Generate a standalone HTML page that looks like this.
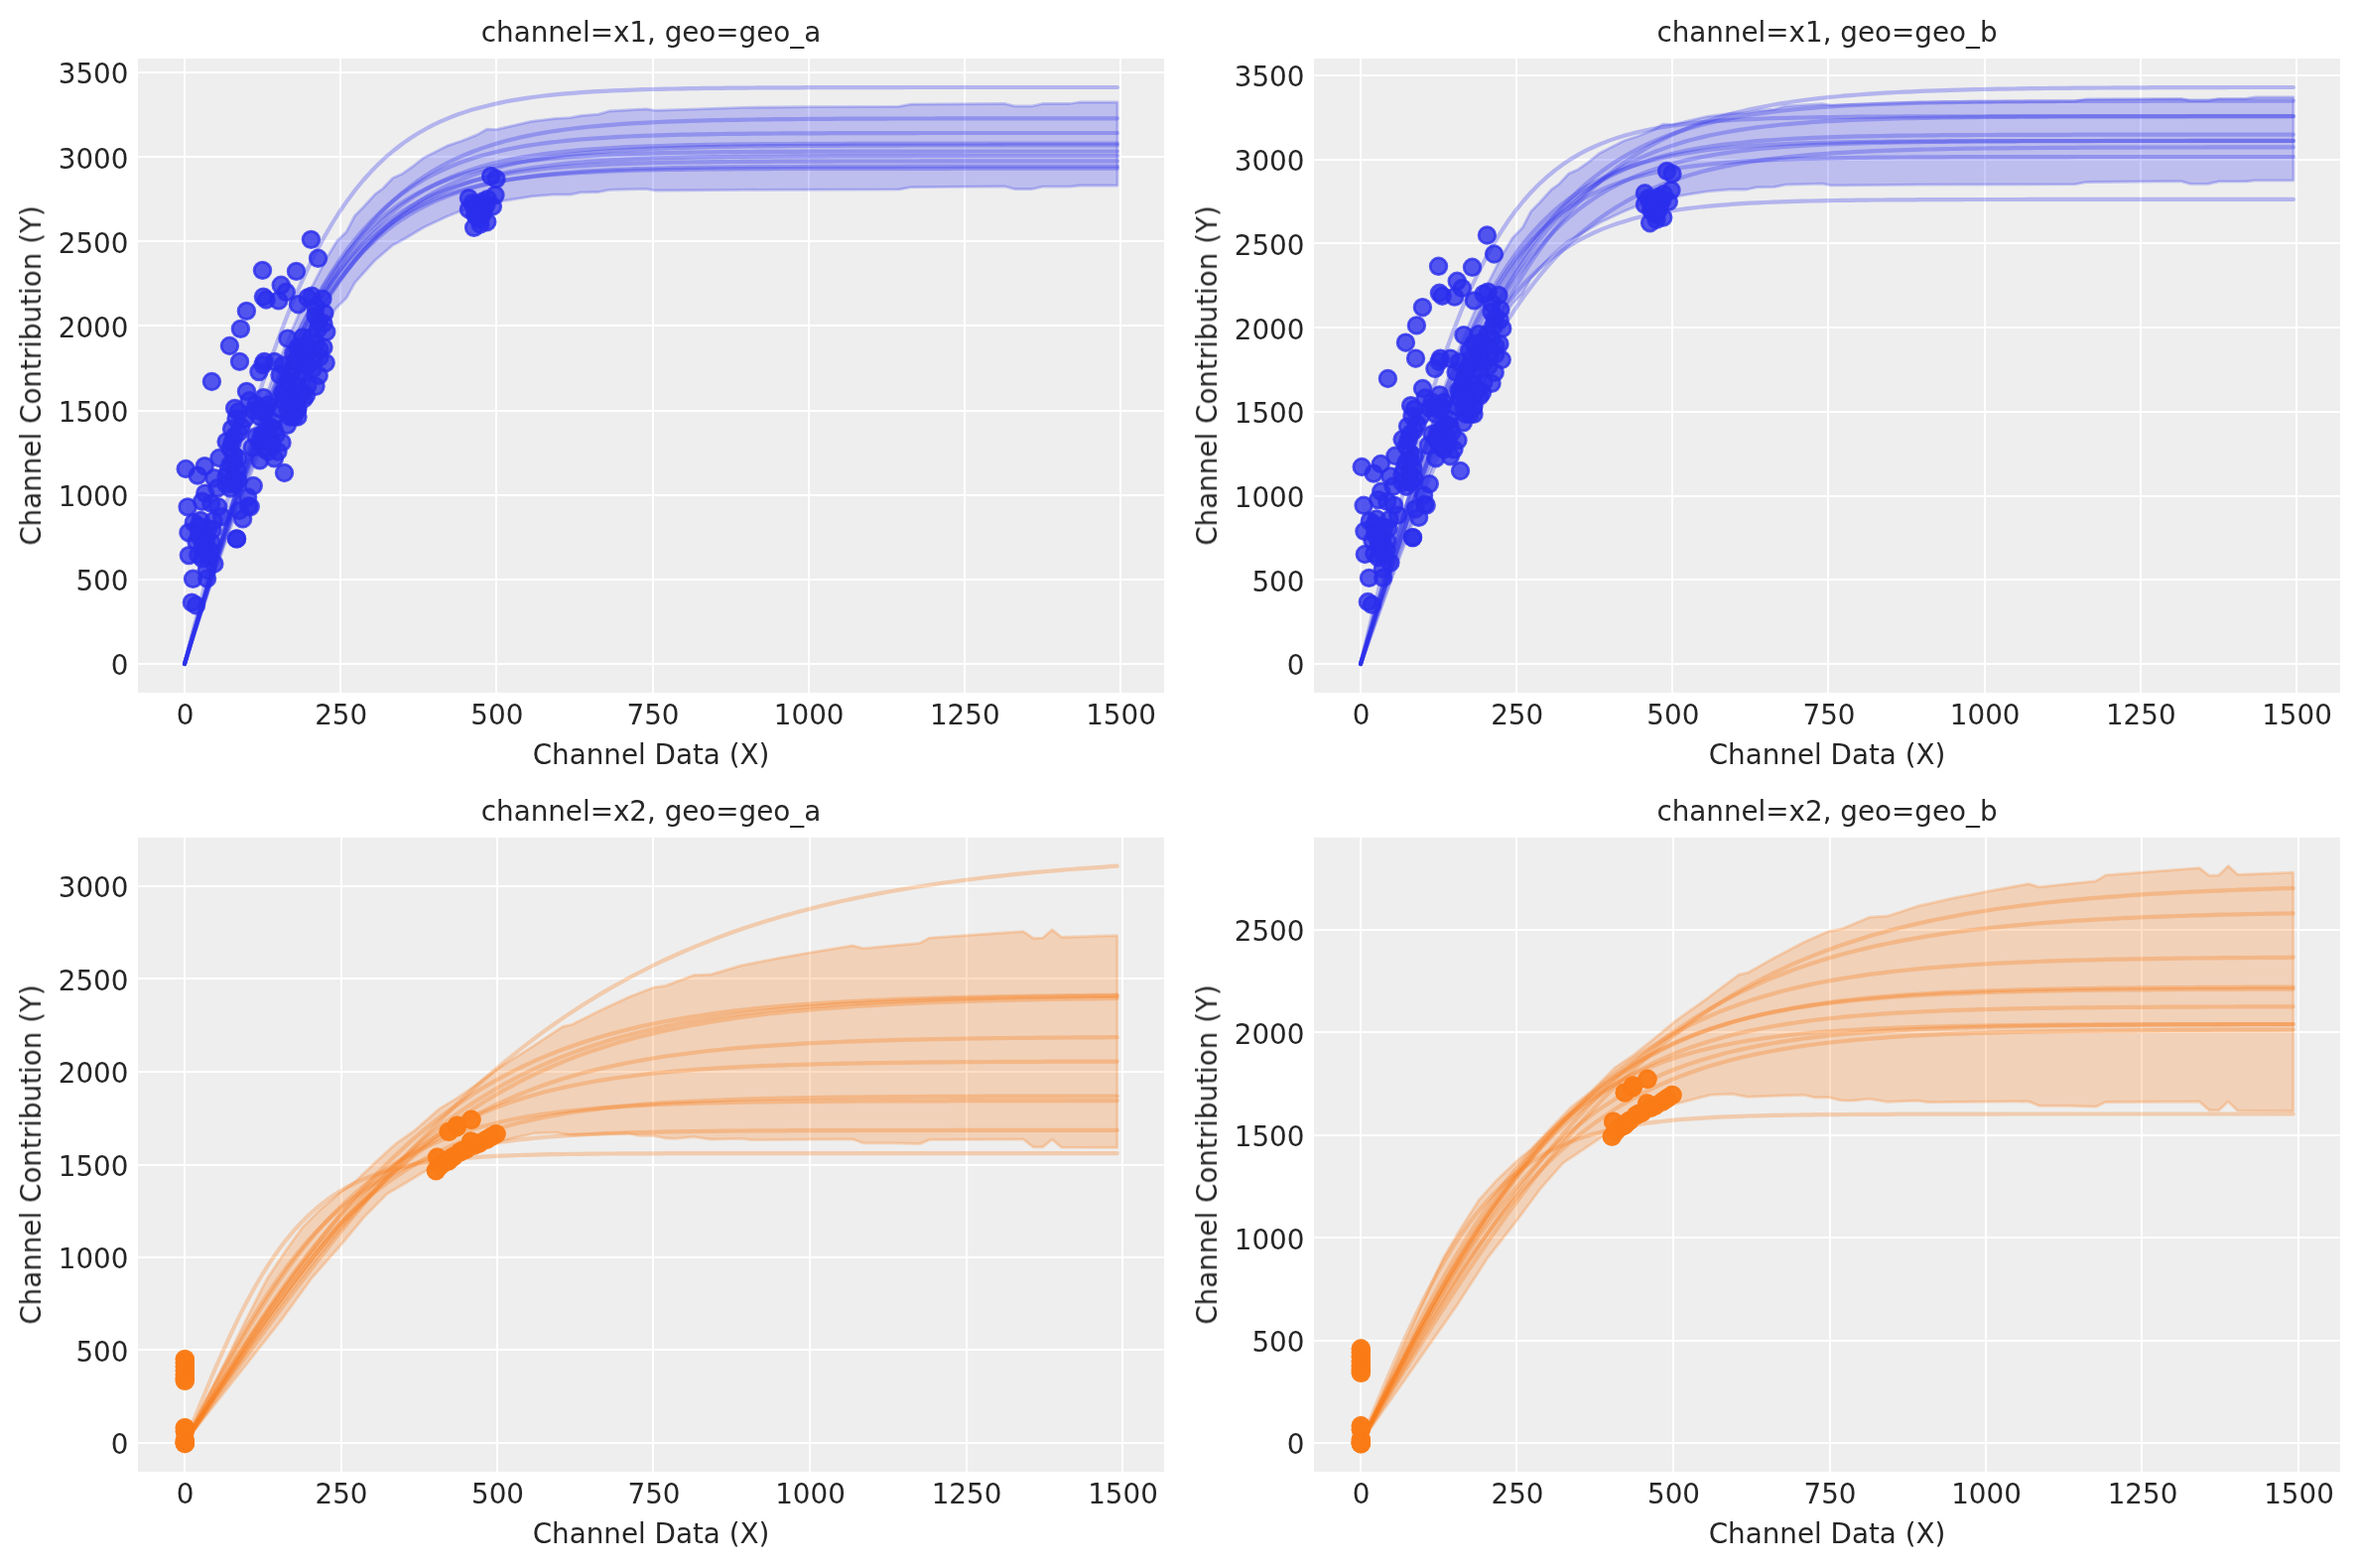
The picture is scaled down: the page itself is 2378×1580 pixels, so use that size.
<!DOCTYPE html>
<html lang="en"><head><meta charset="utf-8"><title>Saturation curves</title>
<style>html,body{margin:0;padding:0;background:#fff}svg{display:block}text{font-family:"DejaVu Sans", "Liberation Sans", sans-serif;font-size:27.78px;fill:#262626}</style></head>
<body>
<svg width="2378" height="1580" viewBox="0 0 2378 1580">
<rect width="2378" height="1580" fill="#fff"/>
<g id="p1">
<clipPath id="cp1"><rect x="139" y="59" width="1034" height="639"/></clipPath>
<rect x="139" y="59" width="1034" height="639" fill="#eeeeee"/>
<path d="M186 59V698M343 59V698M500 59V698M658 59V698M815 59V698M972 59V698M1129 59V698M139 669H1173M139 584H1173M139 499H1173M139 414H1173M139 328H1173M139 243H1173M139 158H1173M139 73H1173" stroke="#fff" stroke-width="2" fill="none"/>
<g clip-path="url(#cp1)">
<polygon points="186,669 191.6,649 197.2,629.1 202.8,609.3 208.3,589.6 213.9,570.2 219.5,550.9 225.1,531.9 230.7,513.3 236.2,495 241.8,477.1 247.4,459.6 253,442.6 258.6,426 264.2,409.9 269.8,394.3 275.3,379.3 280.9,364.7 286.5,350.7 292.1,337.3 297.7,324.4 303.2,312 308.8,300.1 314.4,288.8 320,278 329.9,258.9 339.1,243.6 349.1,233.6 357.5,217.5 365.9,209 378.1,195.6 385.8,190 395.7,179.5 405.7,174.9 415.6,168 427.1,158.9 451.6,146.6 465.4,142 480.7,135.9 490.6,130.2 500,130.6 535.6,122.3 558.7,119.6 574.7,118.7 585.4,116.6 603.2,115.2 613.9,112 651.3,109.8 660.2,111.3 749.2,108.4 815,107.7 905.8,107.3 917.8,105.1 1012.7,104.5 1022.2,106.9 1040,106.9 1050.7,104.5 1078,104.5 1087.5,103 1125.9,103 1125.9,187 1087.5,187 1078,188.1 1050.7,188.1 1040,190.5 1022.2,190.5 1012.7,187.9 917.8,188.7 905.8,190.9 749.2,191.3 660.2,192 651.3,190.3 613.9,191.3 603.2,193.5 585.4,193.8 574.7,196.1 557,196.1 535.6,197.9 507,202.4 480,208 463.1,213 450.1,218.3 427.1,229 408,240.5 395.7,247 377.4,262.7 357.5,284.9 349.1,300.2 339.1,310 333.2,318.1 327.3,326.7 321.4,335.8 315.5,345.4 309.7,355.4 303.8,365.9 297.9,376.9 292,388.4 286.1,400.5 280.2,413 274.3,426.1 268.4,439.6 262.6,453.6 256.7,468.1 250.8,483.1 244.9,498.5 239,514.3 233.1,530.4 227.2,546.9 221.3,563.8 215.4,580.9 209.6,598.2 203.7,615.7 197.8,633.4 191.9,651.2 186,669" fill="#2a2eec" fill-opacity="0.25" stroke="#2a2eec" stroke-opacity="0.25" stroke-width="2.78" stroke-linejoin="round"/>
<g fill="none" stroke="#2a2eec" stroke-opacity="0.3" stroke-width="4.17" stroke-linecap="round" stroke-linejoin="round">
<polyline points="186,669 193.8,638.3 201.7,607.7 209.5,577.5 217.3,547.8 225.2,518.7 233,490.4 240.8,463 248.7,436.6 256.5,411.3 264.3,387.2 272.2,364.3 280,342.6 287.8,322.2 295.6,303 303.5,285.1 311.3,268.3 319.1,252.8 327,238.4 334.8,225 342.6,212.7 350.5,201.4 358.3,191 366.1,181.5 374,172.8 381.8,164.9 389.6,157.6 397.5,151 405.3,145 413.1,139.5 421,134.5 428.8,130 436.6,125.9 444.5,122.2 452.3,118.9 460.1,115.8 468,113.1 475.8,110.6 483.6,108.4 491.5,106.4 499.3,104.6 507.1,102.9 514.9,101.4 522.8,100.1 530.6,98.9 538.4,97.8 546.3,96.8 554.1,95.9 561.9,95.1 569.8,94.4 577.6,93.8 585.4,93.2 593.3,92.7 601.1,92.2 608.9,91.8 616.8,91.4 624.6,91.1 632.4,90.8 640.3,90.5 648.1,90.2 655.9,90 663.8,89.8 671.6,89.6 679.4,89.5 687.3,89.3 695.1,89.2 702.9,89.1 710.8,88.9 718.6,88.9 726.4,88.8 734.2,88.7 742.1,88.6 749.9,88.6 757.7,88.5 765.6,88.4 773.4,88.4 781.2,88.4 789.1,88.3 796.9,88.3 804.7,88.3 812.6,88.2 820.4,88.2 828.2,88.2 836.1,88.2 843.9,88.1 851.7,88.1 859.6,88.1 867.4,88.1 875.2,88.1 883.1,88.1 890.9,88.1 898.7,88.1 906.6,88.1 914.4,88 922.2,88 930.1,88 937.9,88 945.7,88 953.5,88 961.4,88 969.2,88 977,88 984.9,88 992.7,88 1000.5,88 1008.4,88 1016.2,88 1024,88 1031.9,88 1039.7,88 1047.5,88 1055.4,88 1063.2,88 1071,88 1078.9,88 1086.7,88 1094.5,88 1102.4,88 1110.2,88 1118,88 1125.9,88"/>
<polyline points="186,669 193.8,643.4 201.7,617.8 209.5,592.5 217.3,567.5 225.2,543 233,518.9 240.8,495.5 248.7,472.8 256.5,450.8 264.3,429.5 272.2,409.2 280,389.7 287.8,371.1 295.6,353.5 303.5,336.7 311.3,320.9 319.1,306 327,291.9 334.8,278.8 342.6,266.5 350.5,255 358.3,244.3 366.1,234.3 374,225 381.8,216.4 389.6,208.5 397.5,201.1 405.3,194.3 413.1,188.1 421,182.3 428.8,177 436.6,172.1 444.5,167.6 452.3,163.4 460.1,159.7 468,156.2 475.8,153 483.6,150.1 491.5,147.4 499.3,145 507.1,142.7 514.9,140.7 522.8,138.8 530.6,137.1 538.4,135.5 546.3,134.1 554.1,132.8 561.9,131.6 569.8,130.5 577.6,129.5 585.4,128.6 593.3,127.8 601.1,127.1 608.9,126.4 616.8,125.8 624.6,125.2 632.4,124.7 640.3,124.2 648.1,123.8 655.9,123.4 663.8,123 671.6,122.7 679.4,122.4 687.3,122.1 695.1,121.9 702.9,121.6 710.8,121.4 718.6,121.2 726.4,121.1 734.2,120.9 742.1,120.8 749.9,120.6 757.7,120.5 765.6,120.4 773.4,120.3 781.2,120.2 789.1,120.1 796.9,120.1 804.7,120 812.6,119.9 820.4,119.9 828.2,119.8 836.1,119.8 843.9,119.7 851.7,119.7 859.6,119.7 867.4,119.6 875.2,119.6 883.1,119.6 890.9,119.6 898.7,119.5 906.6,119.5 914.4,119.5 922.2,119.5 930.1,119.5 937.9,119.5 945.7,119.4 953.5,119.4 961.4,119.4 969.2,119.4 977,119.4 984.9,119.4 992.7,119.4 1000.5,119.4 1008.4,119.4 1016.2,119.4 1024,119.4 1031.9,119.4 1039.7,119.4 1047.5,119.4 1055.4,119.4 1063.2,119.3 1071,119.3 1078.9,119.3 1086.7,119.3 1094.5,119.3 1102.4,119.3 1110.2,119.3 1118,119.3 1125.9,119.3"/>
<polyline points="186,669 193.8,642.3 201.7,615.7 209.5,589.3 217.3,563.4 225.2,537.9 233,513.1 240.8,489 248.7,465.6 256.5,443.2 264.3,421.7 272.2,401.1 280,381.6 287.8,363 295.6,345.5 303.5,329.1 311.3,313.6 319.1,299.2 327,285.7 334.8,273.1 342.6,261.4 350.5,250.6 358.3,240.6 366.1,231.4 374,222.9 381.8,215.1 389.6,207.9 397.5,201.3 405.3,195.2 413.1,189.7 421,184.7 428.8,180 436.6,175.8 444.5,172 452.3,168.5 460.1,165.3 468,162.4 475.8,159.7 483.6,157.3 491.5,155.2 499.3,153.2 507.1,151.4 514.9,149.7 522.8,148.3 530.6,146.9 538.4,145.7 546.3,144.6 554.1,143.6 561.9,142.7 569.8,141.9 577.6,141.1 585.4,140.4 593.3,139.8 601.1,139.3 608.9,138.8 616.8,138.3 624.6,137.9 632.4,137.5 640.3,137.2 648.1,136.9 655.9,136.6 663.8,136.4 671.6,136.1 679.4,135.9 687.3,135.7 695.1,135.6 702.9,135.4 710.8,135.3 718.6,135.1 726.4,135 734.2,134.9 742.1,134.8 749.9,134.8 757.7,134.7 765.6,134.6 773.4,134.6 781.2,134.5 789.1,134.4 796.9,134.4 804.7,134.4 812.6,134.3 820.4,134.3 828.2,134.3 836.1,134.2 843.9,134.2 851.7,134.2 859.6,134.2 867.4,134.1 875.2,134.1 883.1,134.1 890.9,134.1 898.7,134.1 906.6,134.1 914.4,134.1 922.2,134.1 930.1,134 937.9,134 945.7,134 953.5,134 961.4,134 969.2,134 977,134 984.9,134 992.7,134 1000.5,134 1008.4,134 1016.2,134 1024,134 1031.9,134 1039.7,134 1047.5,134 1055.4,134 1063.2,134 1071,134 1078.9,134 1086.7,134 1094.5,134 1102.4,134 1110.2,134 1118,134 1125.9,134"/>
<polyline points="186,669 193.8,643 201.7,617.2 209.5,591.6 217.3,566.4 225.2,541.7 233,517.6 240.8,494.1 248.7,471.4 256.5,449.6 264.3,428.6 272.2,408.6 280,389.5 287.8,371.4 295.6,354.3 303.5,338.1 311.3,323 319.1,308.8 327,295.5 334.8,283.2 342.6,271.7 350.5,261 358.3,251.2 366.1,242 374,233.6 381.8,225.9 389.6,218.7 397.5,212.2 405.3,206.2 413.1,200.7 421,195.6 428.8,191 436.6,186.8 444.5,183 452.3,179.5 460.1,176.3 468,173.4 475.8,170.7 483.6,168.3 491.5,166.1 499.3,164.1 507.1,162.3 514.9,160.6 522.8,159.1 530.6,157.8 538.4,156.5 546.3,155.4 554.1,154.4 561.9,153.5 569.8,152.6 577.6,151.9 585.4,151.2 593.3,150.6 601.1,150 608.9,149.5 616.8,149 624.6,148.6 632.4,148.2 640.3,147.9 648.1,147.6 655.9,147.3 663.8,147 671.6,146.8 679.4,146.6 687.3,146.4 695.1,146.2 702.9,146 710.8,145.9 718.6,145.8 726.4,145.6 734.2,145.5 742.1,145.4 749.9,145.4 757.7,145.3 765.6,145.2 773.4,145.1 781.2,145.1 789.1,145 796.9,145 804.7,144.9 812.6,144.9 820.4,144.9 828.2,144.8 836.1,144.8 843.9,144.8 851.7,144.8 859.6,144.7 867.4,144.7 875.2,144.7 883.1,144.7 890.9,144.7 898.7,144.6 906.6,144.6 914.4,144.6 922.2,144.6 930.1,144.6 937.9,144.6 945.7,144.6 953.5,144.6 961.4,144.6 969.2,144.6 977,144.6 984.9,144.6 992.7,144.6 1000.5,144.6 1008.4,144.6 1016.2,144.5 1024,144.5 1031.9,144.5 1039.7,144.5 1047.5,144.5 1055.4,144.5 1063.2,144.5 1071,144.5 1078.9,144.5 1086.7,144.5 1094.5,144.5 1102.4,144.5 1110.2,144.5 1118,144.5 1125.9,144.5"/>
<polyline points="186,669 193.8,644.2 201.7,619.6 209.5,595.2 217.3,571.1 225.2,547.4 233,524.2 240.8,501.7 248.7,479.8 256.5,458.6 264.3,438.3 272.2,418.8 280,400.1 287.8,382.3 295.6,365.5 303.5,349.5 311.3,334.4 319.1,320.3 327,307 334.8,294.5 342.6,282.8 350.5,272 358.3,261.9 366.1,252.5 374,243.8 381.8,235.7 389.6,228.3 397.5,221.4 405.3,215.1 413.1,209.2 421,203.9 428.8,198.9 436.6,194.4 444.5,190.2 452.3,186.4 460.1,182.9 468,179.7 475.8,176.8 483.6,174.1 491.5,171.7 499.3,169.4 507.1,167.4 514.9,165.5 522.8,163.8 530.6,162.3 538.4,160.9 546.3,159.6 554.1,158.4 561.9,157.3 569.8,156.3 577.6,155.4 585.4,154.6 593.3,153.9 601.1,153.2 608.9,152.6 616.8,152 624.6,151.5 632.4,151.1 640.3,150.7 648.1,150.3 655.9,149.9 663.8,149.6 671.6,149.3 679.4,149 687.3,148.8 695.1,148.6 702.9,148.4 710.8,148.2 718.6,148 726.4,147.9 734.2,147.8 742.1,147.6 749.9,147.5 757.7,147.4 765.6,147.3 773.4,147.2 781.2,147.2 789.1,147.1 796.9,147 804.7,147 812.6,146.9 820.4,146.9 828.2,146.8 836.1,146.8 843.9,146.8 851.7,146.7 859.6,146.7 867.4,146.7 875.2,146.6 883.1,146.6 890.9,146.6 898.7,146.6 906.6,146.6 914.4,146.5 922.2,146.5 930.1,146.5 937.9,146.5 945.7,146.5 953.5,146.5 961.4,146.5 969.2,146.5 977,146.5 984.9,146.5 992.7,146.5 1000.5,146.4 1008.4,146.4 1016.2,146.4 1024,146.4 1031.9,146.4 1039.7,146.4 1047.5,146.4 1055.4,146.4 1063.2,146.4 1071,146.4 1078.9,146.4 1086.7,146.4 1094.5,146.4 1102.4,146.4 1110.2,146.4 1118,146.4 1125.9,146.4"/>
<polyline points="186,669 193.8,641.8 201.7,614.8 209.5,588.1 217.3,561.8 225.2,536 233,511 240.8,486.8 248.7,463.4 256.5,441 264.3,419.6 272.2,399.3 280,380 287.8,361.9 295.6,344.9 303.5,328.9 311.3,314 319.1,300.2 327,287.4 334.8,275.5 342.6,264.5 350.5,254.4 358.3,245.2 366.1,236.6 374,228.9 381.8,221.7 389.6,215.2 397.5,209.3 405.3,203.9 413.1,199 421,194.5 428.8,190.5 436.6,186.8 444.5,183.5 452.3,180.5 460.1,177.8 468,175.3 475.8,173.1 483.6,171 491.5,169.2 499.3,167.6 507.1,166.1 514.9,164.8 522.8,163.5 530.6,162.5 538.4,161.5 546.3,160.6 554.1,159.8 561.9,159.1 569.8,158.4 577.6,157.8 585.4,157.3 593.3,156.8 601.1,156.4 608.9,156 616.8,155.7 624.6,155.3 632.4,155.1 640.3,154.8 648.1,154.6 655.9,154.4 663.8,154.2 671.6,154 679.4,153.9 687.3,153.7 695.1,153.6 702.9,153.5 710.8,153.4 718.6,153.3 726.4,153.2 734.2,153.2 742.1,153.1 749.9,153 757.7,153 765.6,152.9 773.4,152.9 781.2,152.9 789.1,152.8 796.9,152.8 804.7,152.8 812.6,152.7 820.4,152.7 828.2,152.7 836.1,152.7 843.9,152.7 851.7,152.7 859.6,152.6 867.4,152.6 875.2,152.6 883.1,152.6 890.9,152.6 898.7,152.6 906.6,152.6 914.4,152.6 922.2,152.6 930.1,152.6 937.9,152.6 945.7,152.6 953.5,152.6 961.4,152.6 969.2,152.6 977,152.5 984.9,152.5 992.7,152.5 1000.5,152.5 1008.4,152.5 1016.2,152.5 1024,152.5 1031.9,152.5 1039.7,152.5 1047.5,152.5 1055.4,152.5 1063.2,152.5 1071,152.5 1078.9,152.5 1086.7,152.5 1094.5,152.5 1102.4,152.5 1110.2,152.5 1118,152.5 1125.9,152.5"/>
<polyline points="186,669 193.8,643.7 201.7,618.5 209.5,593.6 217.3,569 225.2,544.9 233,521.4 240.8,498.5 248.7,476.3 256.5,455 264.3,434.6 272.2,415 280,396.4 287.8,378.7 295.6,362 303.5,346.3 311.3,331.5 319.1,317.6 327,304.7 334.8,292.6 342.6,281.4 350.5,271 358.3,261.3 366.1,252.4 374,244.2 381.8,236.6 389.6,229.6 397.5,223.2 405.3,217.4 413.1,212 421,207 428.8,202.5 436.6,198.4 444.5,194.7 452.3,191.2 460.1,188.1 468,185.2 475.8,182.6 483.6,180.3 491.5,178.1 499.3,176.2 507.1,174.4 514.9,172.8 522.8,171.3 530.6,170 538.4,168.8 546.3,167.7 554.1,166.7 561.9,165.8 569.8,164.9 577.6,164.2 585.4,163.5 593.3,162.9 601.1,162.3 608.9,161.8 616.8,161.4 624.6,161 632.4,160.6 640.3,160.2 648.1,159.9 655.9,159.7 663.8,159.4 671.6,159.2 679.4,159 687.3,158.8 695.1,158.6 702.9,158.4 710.8,158.3 718.6,158.2 726.4,158.1 734.2,158 742.1,157.9 749.9,157.8 757.7,157.7 765.6,157.6 773.4,157.6 781.2,157.5 789.1,157.5 796.9,157.4 804.7,157.4 812.6,157.3 820.4,157.3 828.2,157.3 836.1,157.2 843.9,157.2 851.7,157.2 859.6,157.2 867.4,157.1 875.2,157.1 883.1,157.1 890.9,157.1 898.7,157.1 906.6,157.1 914.4,157.1 922.2,157 930.1,157 937.9,157 945.7,157 953.5,157 961.4,157 969.2,157 977,157 984.9,157 992.7,157 1000.5,157 1008.4,157 1016.2,157 1024,157 1031.9,157 1039.7,157 1047.5,157 1055.4,157 1063.2,157 1071,157 1078.9,157 1086.7,157 1094.5,157 1102.4,157 1110.2,157 1118,157 1125.9,157"/>
<polyline points="186,669 193.8,642.4 201.7,615.9 209.5,589.7 217.3,563.9 225.2,538.7 233,514.1 240.8,490.4 248.7,467.4 256.5,445.5 264.3,424.5 272.2,404.6 280,385.7 287.8,367.9 295.6,351.2 303.5,335.6 311.3,321 319.1,307.4 327,294.8 334.8,283.2 342.6,272.4 350.5,262.5 358.3,253.4 366.1,245 374,237.4 381.8,230.4 389.6,224 397.5,218.2 405.3,212.9 413.1,208.1 421,203.7 428.8,199.7 436.6,196.1 444.5,192.9 452.3,189.9 460.1,187.2 468,184.8 475.8,182.6 483.6,180.6 491.5,178.8 499.3,177.2 507.1,175.7 514.9,174.4 522.8,173.2 530.6,172.2 538.4,171.2 546.3,170.3 554.1,169.5 561.9,168.8 569.8,168.2 577.6,167.6 585.4,167.1 593.3,166.6 601.1,166.2 608.9,165.8 616.8,165.5 624.6,165.2 632.4,164.9 640.3,164.7 648.1,164.4 655.9,164.2 663.8,164 671.6,163.9 679.4,163.7 687.3,163.6 695.1,163.5 702.9,163.4 710.8,163.3 718.6,163.2 726.4,163.1 734.2,163 742.1,163 749.9,162.9 757.7,162.9 765.6,162.8 773.4,162.8 781.2,162.7 789.1,162.7 796.9,162.7 804.7,162.6 812.6,162.6 820.4,162.6 828.2,162.6 836.1,162.6 843.9,162.5 851.7,162.5 859.6,162.5 867.4,162.5 875.2,162.5 883.1,162.5 890.9,162.5 898.7,162.5 906.6,162.5 914.4,162.5 922.2,162.5 930.1,162.4 937.9,162.4 945.7,162.4 953.5,162.4 961.4,162.4 969.2,162.4 977,162.4 984.9,162.4 992.7,162.4 1000.5,162.4 1008.4,162.4 1016.2,162.4 1024,162.4 1031.9,162.4 1039.7,162.4 1047.5,162.4 1055.4,162.4 1063.2,162.4 1071,162.4 1078.9,162.4 1086.7,162.4 1094.5,162.4 1102.4,162.4 1110.2,162.4 1118,162.4 1125.9,162.4"/>
<polyline points="186,669 193.8,643.2 201.7,617.6 209.5,592.2 217.3,567.3 225.2,542.8 233,519 240.8,495.9 248.7,473.6 256.5,452.1 264.3,431.6 272.2,412.1 280,393.6 287.8,376.1 295.6,359.6 303.5,344.2 311.3,329.7 319.1,316.2 327,303.6 334.8,292 342.6,281.2 350.5,271.3 358.3,262.1 366.1,253.6 374,245.9 381.8,238.8 389.6,232.3 397.5,226.3 405.3,220.9 413.1,215.9 421,211.4 428.8,207.3 436.6,203.6 444.5,200.2 452.3,197.1 460.1,194.3 468,191.8 475.8,189.5 483.6,187.4 491.5,185.5 499.3,183.8 507.1,182.2 514.9,180.8 522.8,179.5 530.6,178.4 538.4,177.4 546.3,176.4 554.1,175.6 561.9,174.8 569.8,174.1 577.6,173.5 585.4,172.9 593.3,172.4 601.1,172 608.9,171.5 616.8,171.2 624.6,170.8 632.4,170.5 640.3,170.2 648.1,170 655.9,169.8 663.8,169.6 671.6,169.4 679.4,169.2 687.3,169.1 695.1,168.9 702.9,168.8 710.8,168.7 718.6,168.6 726.4,168.5 734.2,168.4 742.1,168.4 749.9,168.3 757.7,168.2 765.6,168.2 773.4,168.1 781.2,168.1 789.1,168 796.9,168 804.7,168 812.6,167.9 820.4,167.9 828.2,167.9 836.1,167.9 843.9,167.9 851.7,167.8 859.6,167.8 867.4,167.8 875.2,167.8 883.1,167.8 890.9,167.8 898.7,167.8 906.6,167.8 914.4,167.7 922.2,167.7 930.1,167.7 937.9,167.7 945.7,167.7 953.5,167.7 961.4,167.7 969.2,167.7 977,167.7 984.9,167.7 992.7,167.7 1000.5,167.7 1008.4,167.7 1016.2,167.7 1024,167.7 1031.9,167.7 1039.7,167.7 1047.5,167.7 1055.4,167.7 1063.2,167.7 1071,167.7 1078.9,167.7 1086.7,167.7 1094.5,167.7 1102.4,167.7 1110.2,167.7 1118,167.7 1125.9,167.7"/>
<polyline points="186,669 193.8,642.3 201.7,615.8 209.5,589.6 217.3,563.9 225.2,538.7 233,514.2 240.8,490.5 248.7,467.6 256.5,445.8 264.3,425 272.2,405.2 280,386.5 287.8,368.9 295.6,352.4 303.5,337 311.3,322.6 319.1,309.3 327,296.9 334.8,285.5 342.6,275 350.5,265.4 358.3,256.5 366.1,248.4 374,241 381.8,234.3 389.6,228.1 397.5,222.5 405.3,217.4 413.1,212.8 421,208.6 428.8,204.8 436.6,201.3 444.5,198.2 452.3,195.4 460.1,192.9 468,190.6 475.8,188.5 483.6,186.6 491.5,184.9 499.3,183.4 507.1,182 514.9,180.8 522.8,179.7 530.6,178.7 538.4,177.8 546.3,177 554.1,176.2 561.9,175.6 569.8,175 577.6,174.5 585.4,174 593.3,173.6 601.1,173.2 608.9,172.8 616.8,172.5 624.6,172.2 632.4,172 640.3,171.7 648.1,171.5 655.9,171.4 663.8,171.2 671.6,171 679.4,170.9 687.3,170.8 695.1,170.7 702.9,170.6 710.8,170.5 718.6,170.4 726.4,170.3 734.2,170.3 742.1,170.2 749.9,170.2 757.7,170.1 765.6,170.1 773.4,170.1 781.2,170 789.1,170 796.9,170 804.7,169.9 812.6,169.9 820.4,169.9 828.2,169.9 836.1,169.9 843.9,169.8 851.7,169.8 859.6,169.8 867.4,169.8 875.2,169.8 883.1,169.8 890.9,169.8 898.7,169.8 906.6,169.8 914.4,169.8 922.2,169.8 930.1,169.8 937.9,169.8 945.7,169.8 953.5,169.8 961.4,169.7 969.2,169.7 977,169.7 984.9,169.7 992.7,169.7 1000.5,169.7 1008.4,169.7 1016.2,169.7 1024,169.7 1031.9,169.7 1039.7,169.7 1047.5,169.7 1055.4,169.7 1063.2,169.7 1071,169.7 1078.9,169.7 1086.7,169.7 1094.5,169.7 1102.4,169.7 1110.2,169.7 1118,169.7 1125.9,169.7"/>
</g>
<g fill="#2a2eec" fill-opacity="0.8" stroke="#2a2eec" stroke-opacity="0.8" stroke-width="2.78">
<circle cx="313.4" cy="241.4" r="8.33"/><circle cx="320.5" cy="260.3" r="8.33"/><circle cx="264.5" cy="272.4" r="8.33"/><circle cx="298.5" cy="273.4" r="8.33"/><circle cx="283.2" cy="287.3" r="8.33"/><circle cx="288.3" cy="294.3" r="8.33"/><circle cx="280.7" cy="302.9" r="8.33"/><circle cx="265.4" cy="299.1" r="8.33"/><circle cx="268.2" cy="302" r="8.33"/><circle cx="248.4" cy="313.4" r="8.33"/><circle cx="300.4" cy="306.7" r="8.33"/><circle cx="314.2" cy="298.1" r="8.33"/><circle cx="325" cy="301.3" r="8.33"/><circle cx="318" cy="309.3" r="8.33"/><circle cx="326.9" cy="315.7" r="8.33"/><circle cx="242.4" cy="331.4" r="8.33"/><circle cx="231.4" cy="348.5" r="8.33"/><circle cx="241.5" cy="364.4" r="8.33"/><circle cx="213.4" cy="384.5" r="8.33"/><circle cx="248.5" cy="394.4" r="8.33"/><circle cx="289.9" cy="341.1" r="8.33"/><circle cx="266.3" cy="364.4" r="8.33"/><circle cx="265" cy="367.6" r="8.33"/><circle cx="260.9" cy="374.6" r="8.33"/><circle cx="276.5" cy="364.4" r="8.33"/><circle cx="328.8" cy="334.4" r="8.33"/><circle cx="328.2" cy="365.7" r="8.33"/><circle cx="321.2" cy="378.4" r="8.33"/><circle cx="318" cy="389.3" r="8.33"/><circle cx="295.7" cy="356.1" r="8.33"/><circle cx="321.2" cy="324.2" r="8.33"/><circle cx="310" cy="300" r="8.33"/><circle cx="318" cy="318" r="8.33"/><circle cx="326" cy="326" r="8.33"/><circle cx="305" cy="340" r="8.33"/><circle cx="318" cy="345" r="8.33"/><circle cx="326" cy="350" r="8.33"/><circle cx="310" cy="355" r="8.33"/><circle cx="300" cy="350" r="8.33"/><circle cx="322" cy="360" r="8.33"/><circle cx="305" cy="365" r="8.33"/><circle cx="315" cy="372" r="8.33"/><circle cx="295" cy="372" r="8.33"/><circle cx="285" cy="368" r="8.33"/><circle cx="300" cy="382" r="8.33"/><circle cx="310" cy="388" r="8.33"/><circle cx="290" cy="385" r="8.33"/><circle cx="282" cy="378" r="8.33"/><circle cx="296" cy="395" r="8.33"/><circle cx="306" cy="402" r="8.33"/><circle cx="286" cy="398" r="8.33"/><circle cx="300" cy="412" r="8.33"/><circle cx="292" cy="420" r="8.33"/><circle cx="187.2" cy="472.5" r="8.33"/><circle cx="206.3" cy="469.6" r="8.33"/><circle cx="199.1" cy="479.1" r="8.33"/><circle cx="220.9" cy="461.5" r="8.33"/><circle cx="286.5" cy="476.5" r="8.33"/><circle cx="255.3" cy="489.5" r="8.33"/><circle cx="249.6" cy="500.9" r="8.33"/><circle cx="206.7" cy="497.1" r="8.33"/><circle cx="189.1" cy="510.9" r="8.33"/><circle cx="219" cy="491.8" r="8.33"/><circle cx="215.9" cy="481.8" r="8.33"/><circle cx="236.6" cy="487.9" r="8.33"/><circle cx="236.6" cy="411.4" r="8.33"/><circle cx="251.1" cy="403.8" r="8.33"/><circle cx="233.5" cy="432.1" r="8.33"/><circle cx="228.1" cy="445.1" r="8.33"/><circle cx="265.6" cy="400.7" r="8.33"/><circle cx="299.3" cy="413.7" r="8.33"/><circle cx="289.4" cy="428.3" r="8.33"/><circle cx="284" cy="445.9" r="8.33"/><circle cx="276.4" cy="461.9" r="8.33"/><circle cx="261.8" cy="463.8" r="8.33"/><circle cx="254.2" cy="451.2" r="8.33"/><circle cx="308.5" cy="398.4" r="8.33"/><circle cx="246.5" cy="422.1" r="8.33"/><circle cx="267.9" cy="413" r="8.33"/><circle cx="273.3" cy="443.6" r="8.33"/><circle cx="235.8" cy="458.9" r="8.33"/><circle cx="238.9" cy="474.2" r="8.33"/><circle cx="284.8" cy="396.1" r="8.33"/><circle cx="212.8" cy="507.1" r="8.33"/><circle cx="250.3" cy="510" r="8.33"/><circle cx="240" cy="415" r="8.33"/><circle cx="243" cy="430" r="8.33"/><circle cx="236" cy="440" r="8.33"/><circle cx="232" cy="452" r="8.33"/><circle cx="240" cy="462" r="8.33"/><circle cx="232" cy="468" r="8.33"/><circle cx="228" cy="480" r="8.33"/><circle cx="240" cy="484" r="8.33"/><circle cx="232" cy="492" r="8.33"/><circle cx="270" cy="408" r="8.33"/><circle cx="262" cy="420" r="8.33"/><circle cx="275" cy="425" r="8.33"/><circle cx="268" cy="435" r="8.33"/><circle cx="278" cy="438" r="8.33"/><circle cx="262" cy="445" r="8.33"/><circle cx="270" cy="455" r="8.33"/><circle cx="280" cy="455" r="8.33"/><circle cx="258" cy="440" r="8.33"/><circle cx="292" cy="405" r="8.33"/><circle cx="282" cy="412" r="8.33"/><circle cx="296" cy="420" r="8.33"/><circle cx="203.7" cy="505.3" r="8.33"/><circle cx="241.2" cy="514.5" r="8.33"/><circle cx="244.6" cy="522.9" r="8.33"/><circle cx="238.5" cy="542.9" r="8.33"/><circle cx="238.5" cy="542.9" r="8.33"/><circle cx="219.7" cy="510.7" r="8.33"/><circle cx="223.6" cy="520.6" r="8.33"/><circle cx="195.2" cy="526.7" r="8.33"/><circle cx="202.1" cy="524.4" r="8.33"/><circle cx="189.9" cy="536.7" r="8.33"/><circle cx="200.6" cy="537.4" r="8.33"/><circle cx="209.8" cy="532.8" r="8.33"/><circle cx="212.8" cy="546.6" r="8.33"/><circle cx="204.4" cy="551.2" r="8.33"/><circle cx="190.3" cy="559.6" r="8.33"/><circle cx="199.8" cy="558.9" r="8.33"/><circle cx="209.8" cy="561.2" r="8.33"/><circle cx="215.9" cy="568" r="8.33"/><circle cx="208.3" cy="574.2" r="8.33"/><circle cx="194.5" cy="583.3" r="8.33"/><circle cx="208.6" cy="583" r="8.33"/><circle cx="193.3" cy="607.1" r="8.33"/><circle cx="197.5" cy="610" r="8.33"/><circle cx="252.2" cy="510.7" r="8.33"/><circle cx="215" cy="525" r="8.33"/><circle cx="208" cy="542" r="8.33"/><circle cx="198" cy="546" r="8.33"/><circle cx="204" cy="563" r="8.33"/><circle cx="212" cy="555" r="8.33"/><circle cx="494.6" cy="177.5" r="8.33"/><circle cx="500" cy="180.3" r="8.33"/><circle cx="472.4" cy="199.7" r="8.33"/><circle cx="499" cy="196.6" r="8.33"/><circle cx="496.4" cy="207.9" r="8.33"/><circle cx="472.4" cy="210.9" r="8.33"/><circle cx="477.6" cy="229.3" r="8.33"/><circle cx="490.8" cy="223.7" r="8.33"/><circle cx="481.1" cy="208.4" r="8.33"/><circle cx="486.2" cy="203.3" r="8.33"/><circle cx="478.6" cy="216" r="8.33"/><circle cx="486.2" cy="216" r="8.33"/><circle cx="491.3" cy="200.7" r="8.33"/><circle cx="476" cy="204.8" r="8.33"/><circle cx="483.7" cy="221.1" r="8.33"/><circle cx="480" cy="212" r="8.33"/><circle cx="488" cy="210" r="8.33"/><circle cx="484" cy="226" r="8.33"/><circle cx="256" cy="414" r="8.33"/><circle cx="258" cy="408" r="8.33"/><circle cx="262" cy="412" r="8.33"/><circle cx="320" cy="332" r="8.33"/><circle cx="314" cy="340" r="8.33"/><circle cx="322" cy="352" r="8.33"/><circle cx="308" cy="348" r="8.33"/><circle cx="316" cy="362" r="8.33"/><circle cx="304" cy="358" r="8.33"/><circle cx="310" cy="368" r="8.33"/><circle cx="298" cy="364" r="8.33"/><circle cx="306" cy="376" r="8.33"/><circle cx="292" cy="378" r="8.33"/><circle cx="300" cy="390" r="8.33"/><circle cx="288" cy="392" r="8.33"/><circle cx="304" cy="396" r="8.33"/><circle cx="294" cy="404" r="8.33"/><circle cx="300" cy="420" r="8.33"/><circle cx="238" cy="422" r="8.33"/><circle cx="240" cy="436" r="8.33"/><circle cx="234" cy="446" r="8.33"/><circle cx="236" cy="466" r="8.33"/><circle cx="230" cy="474" r="8.33"/><circle cx="236" cy="480" r="8.33"/><circle cx="228" cy="488" r="8.33"/><circle cx="266" cy="416" r="8.33"/><circle cx="272" cy="430" r="8.33"/><circle cx="264" cy="438" r="8.33"/><circle cx="274" cy="448" r="8.33"/><circle cx="266" cy="452" r="8.33"/><circle cx="276" cy="432" r="8.33"/><circle cx="286" cy="404" r="8.33"/><circle cx="290" cy="414" r="8.33"/><circle cx="214" cy="534" r="8.33"/><circle cx="202" cy="542" r="8.33"/><circle cx="208" cy="556" r="8.33"/><circle cx="200" cy="530" r="8.33"/><circle cx="206" cy="548" r="8.33"/><circle cx="482" cy="206" r="8.33"/><circle cx="486" cy="212" r="8.33"/><circle cx="480" cy="218" r="8.33"/><circle cx="484" cy="214" r="8.33"/><circle cx="490" cy="206" r="8.33"/><circle cx="478" cy="208" r="8.33"/>
</g>
</g>
<g opacity="0.999">
<text x="186.5" y="730.2" text-anchor="middle">0</text>
<text x="343.7" y="730.2" text-anchor="middle">250</text>
<text x="500.8" y="730.2" text-anchor="middle">500</text>
<text x="658" y="730.2" text-anchor="middle">750</text>
<text x="815.2" y="730.2" text-anchor="middle">1000</text>
<text x="972.3" y="730.2" text-anchor="middle">1250</text>
<text x="1129.5" y="730.2" text-anchor="middle">1500</text>
<text x="129.4" y="680.4" text-anchor="end">0</text>
<text x="129.4" y="595.3" text-anchor="end">500</text>
<text x="129.4" y="510.1" text-anchor="end">1000</text>
<text x="129.4" y="425" text-anchor="end">1500</text>
<text x="129.4" y="339.8" text-anchor="end">2000</text>
<text x="129.4" y="254.7" text-anchor="end">2500</text>
<text x="129.4" y="169.5" text-anchor="end">3000</text>
<text x="129.4" y="84.4" text-anchor="end">3500</text>
<text x="656" y="42.2" text-anchor="middle">channel=x1, geo=geo_a</text>
<text x="656" y="770.2" text-anchor="middle">Channel Data (X)</text>
<text transform="translate(41 378.5) rotate(-90)" text-anchor="middle">Channel Contribution (Y)</text>
</g>
</g>
<g id="p2">
<clipPath id="cp2"><rect x="1324" y="59" width="1034" height="639"/></clipPath>
<rect x="1324" y="59" width="1034" height="639" fill="#eeeeee"/>
<path d="M1371 59V698M1528 59V698M1685 59V698M1842 59V698M2000 59V698M2157 59V698M2314 59V698M1324 669H2358M1324 584H2358M1324 500H2358M1324 415H2358M1324 330H2358M1324 245H2358M1324 161H2358M1324 76H2358" stroke="#fff" stroke-width="2" fill="none"/>
<g clip-path="url(#cp2)">
<polygon points="1371,669 1376.6,648.9 1382.2,628.8 1387.8,608.8 1393.3,588.9 1398.9,569.2 1404.5,549.8 1410.1,530.7 1415.7,511.9 1421.2,493.4 1426.8,475.3 1432.4,457.7 1438,440.5 1443.6,423.8 1449.2,407.5 1454.8,391.8 1460.3,376.6 1465.9,361.9 1471.5,347.8 1477.1,334.2 1482.7,321.2 1488.2,308.7 1493.8,296.7 1499.4,285.3 1505,274.4 1514.9,255.1 1524.1,239.7 1534.1,229.6 1542.5,213.3 1550.9,204.8 1563.1,191.2 1570.8,185.6 1580.7,175 1590.7,170.4 1600.6,163.4 1612.1,154.2 1636.6,141.8 1650.4,137.2 1665.7,131 1675.6,125.2 1685,125.6 1720.6,117.3 1743.7,114.5 1759.7,113.6 1770.4,111.5 1788.2,110.1 1798.9,106.9 1836.3,104.7 1845.2,106.2 1934.2,103.2 2000,102.5 2090.8,102.1 2102.8,99.9 2197.7,99.3 2207.2,101.7 2225,101.7 2235.7,99.3 2263,99.3 2272.5,97.8 2310.9,97.8 2310.9,181.8 2272.5,181.8 2263,182.9 2235.7,182.9 2225,185.3 2207.2,185.3 2197.7,182.7 2102.8,183.5 2090.8,185.7 1934.2,186.1 1845.2,186.8 1836.3,185.1 1798.9,186.1 1788.2,188.4 1770.4,188.7 1759.7,191 1742,191 1720.6,192.8 1692,197.4 1665,203 1648.1,208.1 1635.1,213.4 1612.1,224.2 1593,235.9 1580.7,242.4 1562.4,258.3 1542.5,280.8 1534.1,296.2 1524.1,306.1 1518.2,314.4 1512.3,323.1 1506.4,332.2 1500.5,341.9 1494.7,352 1488.8,362.6 1482.9,373.8 1477,385.4 1471.1,397.6 1465.2,410.3 1459.3,423.4 1453.4,437.1 1447.5,451.3 1441.7,466 1435.8,481.1 1429.9,496.6 1424,512.6 1418.1,528.9 1412.2,545.6 1406.3,562.6 1400.4,579.9 1394.6,597.5 1388.7,615.2 1382.8,633 1376.9,651 1371,669" fill="#2a2eec" fill-opacity="0.25" stroke="#2a2eec" stroke-opacity="0.25" stroke-width="2.78" stroke-linejoin="round"/>
<g fill="none" stroke="#2a2eec" stroke-opacity="0.3" stroke-width="4.17" stroke-linecap="round" stroke-linejoin="round">
<polyline points="1371,669 1378.8,646.2 1386.7,623.5 1394.5,600.9 1402.3,578.5 1410.2,556.4 1418,534.6 1425.8,513.3 1433.7,492.3 1441.5,471.9 1449.3,452 1457.2,432.6 1465,413.9 1472.8,395.8 1480.6,378.4 1488.5,361.6 1496.3,345.5 1504.1,330.1 1512,315.4 1519.8,301.4 1527.6,288.1 1535.5,275.4 1543.3,263.4 1551.1,252 1559,241.2 1566.8,231.1 1574.6,221.5 1582.5,212.5 1590.3,204 1598.1,196.1 1606,188.6 1613.8,181.6 1621.6,175.1 1629.5,169 1637.3,163.2 1645.1,157.9 1653,152.9 1660.8,148.2 1668.6,143.9 1676.5,139.9 1684.3,136.1 1692.1,132.6 1699.9,129.3 1707.8,126.3 1715.6,123.5 1723.4,120.9 1731.3,118.5 1739.1,116.2 1746.9,114.1 1754.8,112.2 1762.6,110.4 1770.4,108.7 1778.3,107.2 1786.1,105.7 1793.9,104.4 1801.8,103.2 1809.6,102 1817.4,101 1825.3,100 1833.1,99.1 1840.9,98.2 1848.8,97.5 1856.6,96.7 1864.4,96.1 1872.3,95.5 1880.1,94.9 1887.9,94.4 1895.8,93.9 1903.6,93.4 1911.4,93 1919.2,92.6 1927.1,92.3 1934.9,91.9 1942.7,91.6 1950.6,91.3 1958.4,91.1 1966.2,90.8 1974.1,90.6 1981.9,90.4 1989.7,90.2 1997.6,90 2005.4,89.9 2013.2,89.7 2021.1,89.6 2028.9,89.5 2036.7,89.3 2044.6,89.2 2052.4,89.1 2060.2,89 2068.1,88.9 2075.9,88.9 2083.7,88.8 2091.6,88.7 2099.4,88.6 2107.2,88.6 2115.1,88.5 2122.9,88.5 2130.7,88.4 2138.5,88.4 2146.4,88.4 2154.2,88.3 2162,88.3 2169.9,88.2 2177.7,88.2 2185.5,88.2 2193.4,88.2 2201.2,88.1 2209,88.1 2216.9,88.1 2224.7,88.1 2232.5,88.1 2240.4,88.1 2248.2,88 2256,88 2263.9,88 2271.7,88 2279.5,88 2287.4,88 2295.2,88 2303,88 2310.9,88"/>
<polyline points="1371,669 1378.8,644.3 1386.7,619.6 1394.5,595.2 1402.3,571 1410.2,547.2 1418,523.8 1425.8,501 1433.7,478.7 1441.5,457.1 1449.3,436.2 1457.2,416 1465,396.5 1472.8,377.9 1480.6,360.1 1488.5,343.1 1496.3,326.9 1504.1,311.6 1512,297.1 1519.8,283.4 1527.6,270.4 1535.5,258.3 1543.3,246.9 1551.1,236.2 1559,226.2 1566.8,216.8 1574.6,208.1 1582.5,200 1590.3,192.4 1598.1,185.4 1606,178.9 1613.8,172.8 1621.6,167.2 1629.5,162 1637.3,157.2 1645.1,152.8 1653,148.7 1660.8,144.9 1668.6,141.4 1676.5,138.2 1684.3,135.2 1692.1,132.5 1699.9,130 1707.8,127.7 1715.6,125.5 1723.4,123.6 1731.3,121.8 1739.1,120.1 1746.9,118.6 1754.8,117.2 1762.6,115.9 1770.4,114.7 1778.3,113.6 1786.1,112.6 1793.9,111.7 1801.8,110.9 1809.6,110.1 1817.4,109.4 1825.3,108.8 1833.1,108.2 1840.9,107.6 1848.8,107.1 1856.6,106.7 1864.4,106.2 1872.3,105.8 1880.1,105.5 1887.9,105.2 1895.8,104.9 1903.6,104.6 1911.4,104.3 1919.2,104.1 1927.1,103.9 1934.9,103.7 1942.7,103.5 1950.6,103.4 1958.4,103.2 1966.2,103.1 1974.1,103 1981.9,102.8 1989.7,102.7 1997.6,102.6 2005.4,102.6 2013.2,102.5 2021.1,102.4 2028.9,102.3 2036.7,102.3 2044.6,102.2 2052.4,102.2 2060.2,102.1 2068.1,102.1 2075.9,102 2083.7,102 2091.6,102 2099.4,101.9 2107.2,101.9 2115.1,101.9 2122.9,101.8 2130.7,101.8 2138.5,101.8 2146.4,101.8 2154.2,101.8 2162,101.8 2169.9,101.7 2177.7,101.7 2185.5,101.7 2193.4,101.7 2201.2,101.7 2209,101.7 2216.9,101.7 2224.7,101.7 2232.5,101.7 2240.4,101.7 2248.2,101.6 2256,101.6 2263.9,101.6 2271.7,101.6 2279.5,101.6 2287.4,101.6 2295.2,101.6 2303,101.6 2310.9,101.6"/>
<polyline points="1371,669 1378.8,636.4 1386.7,604 1394.5,572 1402.3,540.8 1410.2,510.3 1418,480.9 1425.8,452.6 1433.7,425.7 1441.5,400.1 1449.3,375.9 1457.2,353.2 1465,332 1472.8,312.2 1480.6,293.9 1488.5,277.1 1496.3,261.6 1504.1,247.3 1512,234.4 1519.8,222.5 1527.6,211.8 1535.5,202 1543.3,193.2 1551.1,185.2 1559,178.1 1566.8,171.6 1574.6,165.8 1582.5,160.6 1590.3,155.9 1598.1,151.7 1606,148 1613.8,144.6 1621.6,141.6 1629.5,138.9 1637.3,136.6 1645.1,134.4 1653,132.5 1660.8,130.8 1668.6,129.3 1676.5,128 1684.3,126.8 1692.1,125.7 1699.9,124.8 1707.8,123.9 1715.6,123.2 1723.4,122.5 1731.3,121.9 1739.1,121.4 1746.9,120.9 1754.8,120.5 1762.6,120.1 1770.4,119.8 1778.3,119.5 1786.1,119.2 1793.9,119 1801.8,118.8 1809.6,118.6 1817.4,118.5 1825.3,118.3 1833.1,118.2 1840.9,118.1 1848.8,118 1856.6,117.9 1864.4,117.8 1872.3,117.7 1880.1,117.7 1887.9,117.6 1895.8,117.6 1903.6,117.5 1911.4,117.5 1919.2,117.4 1927.1,117.4 1934.9,117.4 1942.7,117.4 1950.6,117.3 1958.4,117.3 1966.2,117.3 1974.1,117.3 1981.9,117.3 1989.7,117.3 1997.6,117.3 2005.4,117.2 2013.2,117.2 2021.1,117.2 2028.9,117.2 2036.7,117.2 2044.6,117.2 2052.4,117.2 2060.2,117.2 2068.1,117.2 2075.9,117.2 2083.7,117.2 2091.6,117.2 2099.4,117.2 2107.2,117.2 2115.1,117.2 2122.9,117.2 2130.7,117.2 2138.5,117.2 2146.4,117.2 2154.2,117.2 2162,117.2 2169.9,117.2 2177.7,117.2 2185.5,117.2 2193.4,117.2 2201.2,117.2 2209,117.2 2216.9,117.2 2224.7,117.2 2232.5,117.2 2240.4,117.2 2248.2,117.2 2256,117.2 2263.9,117.2 2271.7,117.2 2279.5,117.2 2287.4,117.2 2295.2,117.2 2303,117.2 2310.9,117.2"/>
<polyline points="1371,669 1378.8,644.3 1386.7,619.6 1394.5,595.2 1402.3,571.1 1410.2,547.3 1418,524 1425.8,501.2 1433.7,479.1 1441.5,457.6 1449.3,436.9 1457.2,416.9 1465,397.7 1472.8,379.4 1480.6,361.8 1488.5,345.2 1496.3,329.4 1504.1,314.4 1512,300.3 1519.8,287 1527.6,274.5 1535.5,262.8 1543.3,251.8 1551.1,241.6 1559,232 1566.8,223.1 1574.6,214.8 1582.5,207.1 1590.3,200 1598.1,193.4 1606,187.3 1613.8,181.6 1621.6,176.4 1629.5,171.5 1637.3,167.1 1645.1,163 1653,159.2 1660.8,155.7 1668.6,152.5 1676.5,149.6 1684.3,146.9 1692.1,144.4 1699.9,142.1 1707.8,140 1715.6,138.1 1723.4,136.3 1731.3,134.7 1739.1,133.2 1746.9,131.9 1754.8,130.6 1762.6,129.5 1770.4,128.4 1778.3,127.5 1786.1,126.6 1793.9,125.8 1801.8,125.1 1809.6,124.4 1817.4,123.8 1825.3,123.2 1833.1,122.7 1840.9,122.2 1848.8,121.8 1856.6,121.4 1864.4,121 1872.3,120.7 1880.1,120.4 1887.9,120.1 1895.8,119.9 1903.6,119.6 1911.4,119.4 1919.2,119.2 1927.1,119.1 1934.9,118.9 1942.7,118.8 1950.6,118.6 1958.4,118.5 1966.2,118.4 1974.1,118.3 1981.9,118.2 1989.7,118.1 1997.6,118 2005.4,117.9 2013.2,117.9 2021.1,117.8 2028.9,117.8 2036.7,117.7 2044.6,117.7 2052.4,117.6 2060.2,117.6 2068.1,117.5 2075.9,117.5 2083.7,117.5 2091.6,117.5 2099.4,117.4 2107.2,117.4 2115.1,117.4 2122.9,117.4 2130.7,117.4 2138.5,117.3 2146.4,117.3 2154.2,117.3 2162,117.3 2169.9,117.3 2177.7,117.3 2185.5,117.3 2193.4,117.3 2201.2,117.3 2209,117.2 2216.9,117.2 2224.7,117.2 2232.5,117.2 2240.4,117.2 2248.2,117.2 2256,117.2 2263.9,117.2 2271.7,117.2 2279.5,117.2 2287.4,117.2 2295.2,117.2 2303,117.2 2310.9,117.2"/>
<polyline points="1371,669 1378.8,642.4 1386.7,616 1394.5,589.9 1402.3,564.1 1410.2,538.8 1418,514.1 1425.8,490.1 1433.7,467 1441.5,444.6 1449.3,423.2 1457.2,402.8 1465,383.3 1472.8,364.9 1480.6,347.4 1488.5,331 1496.3,315.6 1504.1,301.2 1512,287.7 1519.8,275.2 1527.6,263.5 1535.5,252.7 1543.3,242.7 1551.1,233.5 1559,225 1566.8,217.2 1574.6,210 1582.5,203.4 1590.3,197.3 1598.1,191.8 1606,186.7 1613.8,182.1 1621.6,177.8 1629.5,174 1637.3,170.5 1645.1,167.3 1653,164.3 1660.8,161.7 1668.6,159.3 1676.5,157.1 1684.3,155.1 1692.1,153.3 1699.9,151.6 1707.8,150.1 1715.6,148.8 1723.4,147.5 1731.3,146.4 1739.1,145.4 1746.9,144.5 1754.8,143.7 1762.6,142.9 1770.4,142.2 1778.3,141.6 1786.1,141 1793.9,140.5 1801.8,140.1 1809.6,139.6 1817.4,139.3 1825.3,138.9 1833.1,138.6 1840.9,138.3 1848.8,138.1 1856.6,137.8 1864.4,137.6 1872.3,137.4 1880.1,137.3 1887.9,137.1 1895.8,137 1903.6,136.9 1911.4,136.7 1919.2,136.6 1927.1,136.5 1934.9,136.5 1942.7,136.4 1950.6,136.3 1958.4,136.2 1966.2,136.2 1974.1,136.1 1981.9,136.1 1989.7,136 1997.6,136 2005.4,136 2013.2,135.9 2021.1,135.9 2028.9,135.9 2036.7,135.9 2044.6,135.8 2052.4,135.8 2060.2,135.8 2068.1,135.8 2075.9,135.8 2083.7,135.8 2091.6,135.7 2099.4,135.7 2107.2,135.7 2115.1,135.7 2122.9,135.7 2130.7,135.7 2138.5,135.7 2146.4,135.7 2154.2,135.7 2162,135.7 2169.9,135.7 2177.7,135.7 2185.5,135.7 2193.4,135.7 2201.2,135.7 2209,135.7 2216.9,135.7 2224.7,135.7 2232.5,135.7 2240.4,135.7 2248.2,135.7 2256,135.7 2263.9,135.7 2271.7,135.7 2279.5,135.6 2287.4,135.6 2295.2,135.6 2303,135.6 2310.9,135.6"/>
<polyline points="1371,669 1378.8,644.1 1386.7,619.2 1394.5,594.6 1402.3,570.4 1410.2,546.5 1418,523.2 1425.8,500.5 1433.7,478.4 1441.5,457.1 1449.3,436.6 1457.2,416.9 1465,398.1 1472.8,380.2 1480.6,363.2 1488.5,347.1 1496.3,331.9 1504.1,317.6 1512,304.2 1519.8,291.6 1527.6,279.8 1535.5,268.9 1543.3,258.7 1551.1,249.2 1559,240.4 1566.8,232.3 1574.6,224.7 1582.5,217.8 1590.3,211.4 1598.1,205.5 1606,200.1 1613.8,195.1 1621.6,190.5 1629.5,186.3 1637.3,182.4 1645.1,178.9 1653,175.7 1660.8,172.7 1668.6,170 1676.5,167.5 1684.3,165.3 1692.1,163.2 1699.9,161.3 1707.8,159.6 1715.6,158 1723.4,156.6 1731.3,155.3 1739.1,154.1 1746.9,153 1754.8,152 1762.6,151.1 1770.4,150.3 1778.3,149.5 1786.1,148.8 1793.9,148.2 1801.8,147.6 1809.6,147.1 1817.4,146.7 1825.3,146.2 1833.1,145.8 1840.9,145.5 1848.8,145.2 1856.6,144.9 1864.4,144.6 1872.3,144.4 1880.1,144.1 1887.9,143.9 1895.8,143.8 1903.6,143.6 1911.4,143.4 1919.2,143.3 1927.1,143.2 1934.9,143.1 1942.7,143 1950.6,142.9 1958.4,142.8 1966.2,142.7 1974.1,142.6 1981.9,142.6 1989.7,142.5 1997.6,142.4 2005.4,142.4 2013.2,142.4 2021.1,142.3 2028.9,142.3 2036.7,142.2 2044.6,142.2 2052.4,142.2 2060.2,142.2 2068.1,142.1 2075.9,142.1 2083.7,142.1 2091.6,142.1 2099.4,142.1 2107.2,142.1 2115.1,142 2122.9,142 2130.7,142 2138.5,142 2146.4,142 2154.2,142 2162,142 2169.9,142 2177.7,142 2185.5,142 2193.4,142 2201.2,142 2209,141.9 2216.9,141.9 2224.7,141.9 2232.5,141.9 2240.4,141.9 2248.2,141.9 2256,141.9 2263.9,141.9 2271.7,141.9 2279.5,141.9 2287.4,141.9 2295.2,141.9 2303,141.9 2310.9,141.9"/>
<polyline points="1371,669 1378.8,641.1 1386.7,613.4 1394.5,586 1402.3,559 1410.2,532.6 1418,507 1425.8,482.1 1433.7,458.2 1441.5,435.3 1449.3,413.4 1457.2,392.6 1465,372.9 1472.8,354.4 1480.6,337 1488.5,320.7 1496.3,305.5 1504.1,291.4 1512,278.3 1519.8,266.2 1527.6,255.1 1535.5,244.8 1543.3,235.4 1551.1,226.8 1559,218.9 1566.8,211.6 1574.6,205.1 1582.5,199.1 1590.3,193.6 1598.1,188.6 1606,184.1 1613.8,180 1621.6,176.3 1629.5,173 1637.3,169.9 1645.1,167.2 1653,164.7 1660.8,162.5 1668.6,160.4 1676.5,158.6 1684.3,156.9 1692.1,155.5 1699.9,154.1 1707.8,152.9 1715.6,151.8 1723.4,150.8 1731.3,149.9 1739.1,149.1 1746.9,148.4 1754.8,147.8 1762.6,147.2 1770.4,146.6 1778.3,146.2 1786.1,145.7 1793.9,145.4 1801.8,145 1809.6,144.7 1817.4,144.4 1825.3,144.2 1833.1,143.9 1840.9,143.7 1848.8,143.6 1856.6,143.4 1864.4,143.2 1872.3,143.1 1880.1,143 1887.9,142.9 1895.8,142.8 1903.6,142.7 1911.4,142.6 1919.2,142.5 1927.1,142.5 1934.9,142.4 1942.7,142.4 1950.6,142.3 1958.4,142.3 1966.2,142.2 1974.1,142.2 1981.9,142.2 1989.7,142.2 1997.6,142.1 2005.4,142.1 2013.2,142.1 2021.1,142.1 2028.9,142.1 2036.7,142 2044.6,142 2052.4,142 2060.2,142 2068.1,142 2075.9,142 2083.7,142 2091.6,142 2099.4,142 2107.2,142 2115.1,142 2122.9,141.9 2130.7,141.9 2138.5,141.9 2146.4,141.9 2154.2,141.9 2162,141.9 2169.9,141.9 2177.7,141.9 2185.5,141.9 2193.4,141.9 2201.2,141.9 2209,141.9 2216.9,141.9 2224.7,141.9 2232.5,141.9 2240.4,141.9 2248.2,141.9 2256,141.9 2263.9,141.9 2271.7,141.9 2279.5,141.9 2287.4,141.9 2295.2,141.9 2303,141.9 2310.9,141.9"/>
<polyline points="1371,669 1378.8,647 1386.7,625 1394.5,603.2 1402.3,581.6 1410.2,560.3 1418,539.5 1425.8,519 1433.7,499 1441.5,479.6 1449.3,460.8 1457.2,442.6 1465,425 1472.8,408.1 1480.6,392 1488.5,376.5 1496.3,361.8 1504.1,347.8 1512,334.5 1519.8,321.9 1527.6,310 1535.5,298.7 1543.3,288.2 1551.1,278.2 1559,268.9 1566.8,260.1 1574.6,252 1582.5,244.3 1590.3,237.2 1598.1,230.6 1606,224.4 1613.8,218.6 1621.6,213.3 1629.5,208.3 1637.3,203.7 1645.1,199.4 1653,195.4 1660.8,191.8 1668.6,188.4 1676.5,185.2 1684.3,182.3 1692.1,179.7 1699.9,177.2 1707.8,174.9 1715.6,172.8 1723.4,170.9 1731.3,169.1 1739.1,167.4 1746.9,165.9 1754.8,164.5 1762.6,163.2 1770.4,162 1778.3,160.9 1786.1,159.9 1793.9,159 1801.8,158.1 1809.6,157.3 1817.4,156.6 1825.3,155.9 1833.1,155.3 1840.9,154.8 1848.8,154.2 1856.6,153.8 1864.4,153.3 1872.3,152.9 1880.1,152.6 1887.9,152.2 1895.8,151.9 1903.6,151.6 1911.4,151.3 1919.2,151.1 1927.1,150.9 1934.9,150.7 1942.7,150.5 1950.6,150.3 1958.4,150.2 1966.2,150 1974.1,149.9 1981.9,149.7 1989.7,149.6 1997.6,149.5 2005.4,149.4 2013.2,149.3 2021.1,149.3 2028.9,149.2 2036.7,149.1 2044.6,149.1 2052.4,149 2060.2,148.9 2068.1,148.9 2075.9,148.9 2083.7,148.8 2091.6,148.8 2099.4,148.7 2107.2,148.7 2115.1,148.7 2122.9,148.7 2130.7,148.6 2138.5,148.6 2146.4,148.6 2154.2,148.6 2162,148.5 2169.9,148.5 2177.7,148.5 2185.5,148.5 2193.4,148.5 2201.2,148.5 2209,148.5 2216.9,148.5 2224.7,148.4 2232.5,148.4 2240.4,148.4 2248.2,148.4 2256,148.4 2263.9,148.4 2271.7,148.4 2279.5,148.4 2287.4,148.4 2295.2,148.4 2303,148.4 2310.9,148.4"/>
<polyline points="1371,669 1378.8,641 1386.7,613.2 1394.5,585.7 1402.3,558.7 1410.2,532.3 1418,506.7 1425.8,482 1433.7,458.3 1441.5,435.5 1449.3,413.9 1457.2,393.5 1465,374.2 1472.8,356.1 1480.6,339.2 1488.5,323.4 1496.3,308.8 1504.1,295.2 1512,282.7 1519.8,271.2 1527.6,260.6 1535.5,250.9 1543.3,242.1 1551.1,234 1559,226.6 1566.8,219.9 1574.6,213.9 1582.5,208.3 1590.3,203.4 1598.1,198.8 1606,194.7 1613.8,191.1 1621.6,187.7 1629.5,184.7 1637.3,182 1645.1,179.6 1653,177.4 1660.8,175.4 1668.6,173.6 1676.5,172 1684.3,170.6 1692.1,169.3 1699.9,168.1 1707.8,167.1 1715.6,166.2 1723.4,165.3 1731.3,164.6 1739.1,163.9 1746.9,163.3 1754.8,162.7 1762.6,162.2 1770.4,161.8 1778.3,161.4 1786.1,161.1 1793.9,160.7 1801.8,160.5 1809.6,160.2 1817.4,160 1825.3,159.8 1833.1,159.6 1840.9,159.4 1848.8,159.3 1856.6,159.1 1864.4,159 1872.3,158.9 1880.1,158.8 1887.9,158.7 1895.8,158.7 1903.6,158.6 1911.4,158.5 1919.2,158.5 1927.1,158.4 1934.9,158.4 1942.7,158.3 1950.6,158.3 1958.4,158.3 1966.2,158.2 1974.1,158.2 1981.9,158.2 1989.7,158.2 1997.6,158.2 2005.4,158.1 2013.2,158.1 2021.1,158.1 2028.9,158.1 2036.7,158.1 2044.6,158.1 2052.4,158.1 2060.2,158.1 2068.1,158.1 2075.9,158.1 2083.7,158.1 2091.6,158 2099.4,158 2107.2,158 2115.1,158 2122.9,158 2130.7,158 2138.5,158 2146.4,158 2154.2,158 2162,158 2169.9,158 2177.7,158 2185.5,158 2193.4,158 2201.2,158 2209,158 2216.9,158 2224.7,158 2232.5,158 2240.4,158 2248.2,158 2256,158 2263.9,158 2271.7,158 2279.5,158 2287.4,158 2295.2,158 2303,158 2310.9,158"/>
<polyline points="1371,669 1378.8,643.4 1386.7,617.9 1394.5,592.7 1402.3,568 1410.2,543.8 1418,520.4 1425.8,497.7 1433.7,475.9 1441.5,455.1 1449.3,435.3 1457.2,416.6 1465,398.9 1472.8,382.4 1480.6,366.9 1488.5,352.4 1496.3,339 1504.1,326.6 1512,315.1 1519.8,304.6 1527.6,294.9 1535.5,286 1543.3,277.9 1551.1,270.5 1559,263.7 1566.8,257.6 1574.6,252 1582.5,247 1590.3,242.4 1598.1,238.3 1606,234.5 1613.8,231.1 1621.6,228.1 1629.5,225.3 1637.3,222.9 1645.1,220.6 1653,218.6 1660.8,216.8 1668.6,215.2 1676.5,213.7 1684.3,212.4 1692.1,211.2 1699.9,210.1 1707.8,209.2 1715.6,208.3 1723.4,207.6 1731.3,206.9 1739.1,206.3 1746.9,205.7 1754.8,205.2 1762.6,204.7 1770.4,204.3 1778.3,204 1786.1,203.7 1793.9,203.4 1801.8,203.1 1809.6,202.9 1817.4,202.7 1825.3,202.5 1833.1,202.3 1840.9,202.2 1848.8,202 1856.6,201.9 1864.4,201.8 1872.3,201.7 1880.1,201.6 1887.9,201.5 1895.8,201.5 1903.6,201.4 1911.4,201.4 1919.2,201.3 1927.1,201.3 1934.9,201.2 1942.7,201.2 1950.6,201.1 1958.4,201.1 1966.2,201.1 1974.1,201.1 1981.9,201 1989.7,201 1997.6,201 2005.4,201 2013.2,201 2021.1,201 2028.9,201 2036.7,201 2044.6,200.9 2052.4,200.9 2060.2,200.9 2068.1,200.9 2075.9,200.9 2083.7,200.9 2091.6,200.9 2099.4,200.9 2107.2,200.9 2115.1,200.9 2122.9,200.9 2130.7,200.9 2138.5,200.9 2146.4,200.9 2154.2,200.9 2162,200.9 2169.9,200.9 2177.7,200.9 2185.5,200.9 2193.4,200.9 2201.2,200.9 2209,200.9 2216.9,200.9 2224.7,200.9 2232.5,200.9 2240.4,200.9 2248.2,200.9 2256,200.9 2263.9,200.9 2271.7,200.9 2279.5,200.9 2287.4,200.9 2295.2,200.9 2303,200.9 2310.9,200.9"/>
</g>
<g fill="#2a2eec" fill-opacity="0.8" stroke="#2a2eec" stroke-opacity="0.8" stroke-width="2.78">
<circle cx="1498.4" cy="237" r="8.33"/><circle cx="1505.5" cy="256" r="8.33"/><circle cx="1449.5" cy="268.3" r="8.33"/><circle cx="1483.5" cy="269.3" r="8.33"/><circle cx="1468.2" cy="283.3" r="8.33"/><circle cx="1473.3" cy="290.4" r="8.33"/><circle cx="1465.7" cy="299.1" r="8.33"/><circle cx="1450.4" cy="295.3" r="8.33"/><circle cx="1453.2" cy="298.2" r="8.33"/><circle cx="1433.4" cy="309.7" r="8.33"/><circle cx="1485.4" cy="302.9" r="8.33"/><circle cx="1499.2" cy="294.2" r="8.33"/><circle cx="1510" cy="297.5" r="8.33"/><circle cx="1503" cy="305.6" r="8.33"/><circle cx="1511.9" cy="312" r="8.33"/><circle cx="1427.4" cy="327.9" r="8.33"/><circle cx="1416.4" cy="345.2" r="8.33"/><circle cx="1426.5" cy="361.2" r="8.33"/><circle cx="1398.4" cy="381.5" r="8.33"/><circle cx="1433.5" cy="391.5" r="8.33"/><circle cx="1474.9" cy="337.7" r="8.33"/><circle cx="1451.3" cy="361.2" r="8.33"/><circle cx="1450" cy="364.5" r="8.33"/><circle cx="1445.9" cy="371.5" r="8.33"/><circle cx="1461.5" cy="361.2" r="8.33"/><circle cx="1513.8" cy="330.9" r="8.33"/><circle cx="1513.2" cy="362.5" r="8.33"/><circle cx="1506.2" cy="375.4" r="8.33"/><circle cx="1503" cy="386.4" r="8.33"/><circle cx="1480.7" cy="352.8" r="8.33"/><circle cx="1506.2" cy="320.6" r="8.33"/><circle cx="1495" cy="296.2" r="8.33"/><circle cx="1503" cy="314.3" r="8.33"/><circle cx="1511" cy="322.4" r="8.33"/><circle cx="1490" cy="336.6" r="8.33"/><circle cx="1503" cy="341.6" r="8.33"/><circle cx="1511" cy="346.7" r="8.33"/><circle cx="1495" cy="351.7" r="8.33"/><circle cx="1485" cy="346.7" r="8.33"/><circle cx="1507" cy="356.8" r="8.33"/><circle cx="1490" cy="361.8" r="8.33"/><circle cx="1500" cy="368.9" r="8.33"/><circle cx="1480" cy="368.9" r="8.33"/><circle cx="1470" cy="364.9" r="8.33"/><circle cx="1485" cy="379" r="8.33"/><circle cx="1495" cy="385.1" r="8.33"/><circle cx="1475" cy="382" r="8.33"/><circle cx="1467" cy="375" r="8.33"/><circle cx="1481" cy="392.2" r="8.33"/><circle cx="1491" cy="399.2" r="8.33"/><circle cx="1471" cy="395.2" r="8.33"/><circle cx="1485" cy="409.3" r="8.33"/><circle cx="1477" cy="417.4" r="8.33"/><circle cx="1372.2" cy="470.5" r="8.33"/><circle cx="1391.3" cy="467.5" r="8.33"/><circle cx="1384.1" cy="477.1" r="8.33"/><circle cx="1405.9" cy="459.3" r="8.33"/><circle cx="1471.5" cy="474.5" r="8.33"/><circle cx="1440.3" cy="487.6" r="8.33"/><circle cx="1434.6" cy="499.2" r="8.33"/><circle cx="1391.7" cy="495.3" r="8.33"/><circle cx="1374.1" cy="509.3" r="8.33"/><circle cx="1404" cy="490" r="8.33"/><circle cx="1400.9" cy="479.9" r="8.33"/><circle cx="1421.6" cy="486" r="8.33"/><circle cx="1421.6" cy="408.7" r="8.33"/><circle cx="1436.1" cy="401" r="8.33"/><circle cx="1418.5" cy="429.6" r="8.33"/><circle cx="1413.1" cy="442.8" r="8.33"/><circle cx="1450.6" cy="397.9" r="8.33"/><circle cx="1484.3" cy="411" r="8.33"/><circle cx="1474.4" cy="425.8" r="8.33"/><circle cx="1469" cy="443.6" r="8.33"/><circle cx="1461.4" cy="459.7" r="8.33"/><circle cx="1446.8" cy="461.7" r="8.33"/><circle cx="1439.2" cy="448.9" r="8.33"/><circle cx="1493.5" cy="395.6" r="8.33"/><circle cx="1431.5" cy="419.5" r="8.33"/><circle cx="1452.9" cy="410.3" r="8.33"/><circle cx="1458.3" cy="441.3" r="8.33"/><circle cx="1420.8" cy="456.7" r="8.33"/><circle cx="1423.9" cy="472.2" r="8.33"/><circle cx="1469.8" cy="393.3" r="8.33"/><circle cx="1397.8" cy="505.4" r="8.33"/><circle cx="1435.3" cy="508.3" r="8.33"/><circle cx="1425" cy="412.4" r="8.33"/><circle cx="1428" cy="427.5" r="8.33"/><circle cx="1421" cy="437.6" r="8.33"/><circle cx="1417" cy="449.7" r="8.33"/><circle cx="1425" cy="459.8" r="8.33"/><circle cx="1417" cy="465.9" r="8.33"/><circle cx="1413" cy="478" r="8.33"/><circle cx="1425" cy="482.1" r="8.33"/><circle cx="1417" cy="490.2" r="8.33"/><circle cx="1455" cy="405.3" r="8.33"/><circle cx="1447" cy="417.4" r="8.33"/><circle cx="1460" cy="422.5" r="8.33"/><circle cx="1453" cy="432.6" r="8.33"/><circle cx="1463" cy="435.6" r="8.33"/><circle cx="1447" cy="442.7" r="8.33"/><circle cx="1455" cy="452.8" r="8.33"/><circle cx="1465" cy="452.8" r="8.33"/><circle cx="1443" cy="437.6" r="8.33"/><circle cx="1477" cy="402.3" r="8.33"/><circle cx="1467" cy="409.3" r="8.33"/><circle cx="1481" cy="417.4" r="8.33"/><circle cx="1388.7" cy="503.6" r="8.33"/><circle cx="1426.2" cy="512.9" r="8.33"/><circle cx="1429.6" cy="521.4" r="8.33"/><circle cx="1423.5" cy="541.6" r="8.33"/><circle cx="1423.5" cy="541.6" r="8.33"/><circle cx="1404.7" cy="509.1" r="8.33"/><circle cx="1408.6" cy="519.1" r="8.33"/><circle cx="1380.2" cy="525.2" r="8.33"/><circle cx="1387.1" cy="522.9" r="8.33"/><circle cx="1374.9" cy="535.3" r="8.33"/><circle cx="1385.6" cy="536" r="8.33"/><circle cx="1394.8" cy="531.4" r="8.33"/><circle cx="1397.8" cy="545.3" r="8.33"/><circle cx="1389.4" cy="550" r="8.33"/><circle cx="1375.3" cy="558.5" r="8.33"/><circle cx="1384.8" cy="557.8" r="8.33"/><circle cx="1394.8" cy="560.1" r="8.33"/><circle cx="1400.9" cy="566.9" r="8.33"/><circle cx="1393.3" cy="573.2" r="8.33"/><circle cx="1379.5" cy="582.4" r="8.33"/><circle cx="1393.6" cy="582.1" r="8.33"/><circle cx="1378.3" cy="606.5" r="8.33"/><circle cx="1382.5" cy="609.4" r="8.33"/><circle cx="1437.2" cy="509.1" r="8.33"/><circle cx="1400" cy="523.5" r="8.33"/><circle cx="1393" cy="540.7" r="8.33"/><circle cx="1383" cy="544.7" r="8.33"/><circle cx="1389" cy="561.9" r="8.33"/><circle cx="1397" cy="553.8" r="8.33"/><circle cx="1679.6" cy="172.4" r="8.33"/><circle cx="1685" cy="175.2" r="8.33"/><circle cx="1657.4" cy="194.8" r="8.33"/><circle cx="1684" cy="191.7" r="8.33"/><circle cx="1681.4" cy="203.1" r="8.33"/><circle cx="1657.4" cy="206.1" r="8.33"/><circle cx="1662.6" cy="224.7" r="8.33"/><circle cx="1675.8" cy="219.1" r="8.33"/><circle cx="1666.1" cy="203.6" r="8.33"/><circle cx="1671.2" cy="198.5" r="8.33"/><circle cx="1663.6" cy="211.3" r="8.33"/><circle cx="1671.2" cy="211.3" r="8.33"/><circle cx="1676.3" cy="195.8" r="8.33"/><circle cx="1661" cy="200" r="8.33"/><circle cx="1668.7" cy="216.4" r="8.33"/><circle cx="1665" cy="207.2" r="8.33"/><circle cx="1673" cy="205.2" r="8.33"/><circle cx="1669" cy="221.4" r="8.33"/><circle cx="1441" cy="411.3" r="8.33"/><circle cx="1443" cy="405.3" r="8.33"/><circle cx="1447" cy="409.3" r="8.33"/><circle cx="1505" cy="328.5" r="8.33"/><circle cx="1499" cy="336.6" r="8.33"/><circle cx="1507" cy="348.7" r="8.33"/><circle cx="1493" cy="344.7" r="8.33"/><circle cx="1501" cy="358.8" r="8.33"/><circle cx="1489" cy="354.8" r="8.33"/><circle cx="1495" cy="364.9" r="8.33"/><circle cx="1483" cy="360.8" r="8.33"/><circle cx="1491" cy="373" r="8.33"/><circle cx="1477" cy="375" r="8.33"/><circle cx="1485" cy="387.1" r="8.33"/><circle cx="1473" cy="389.1" r="8.33"/><circle cx="1489" cy="393.2" r="8.33"/><circle cx="1479" cy="401.2" r="8.33"/><circle cx="1485" cy="417.4" r="8.33"/><circle cx="1423" cy="419.4" r="8.33"/><circle cx="1425" cy="433.6" r="8.33"/><circle cx="1419" cy="443.7" r="8.33"/><circle cx="1421" cy="463.9" r="8.33"/><circle cx="1415" cy="472" r="8.33"/><circle cx="1421" cy="478" r="8.33"/><circle cx="1413" cy="486.1" r="8.33"/><circle cx="1451" cy="413.4" r="8.33"/><circle cx="1457" cy="427.5" r="8.33"/><circle cx="1449" cy="435.6" r="8.33"/><circle cx="1459" cy="445.7" r="8.33"/><circle cx="1451" cy="449.7" r="8.33"/><circle cx="1461" cy="429.5" r="8.33"/><circle cx="1471" cy="401.2" r="8.33"/><circle cx="1475" cy="411.3" r="8.33"/><circle cx="1399" cy="532.6" r="8.33"/><circle cx="1387" cy="540.7" r="8.33"/><circle cx="1393" cy="554.8" r="8.33"/><circle cx="1385" cy="528.6" r="8.33"/><circle cx="1391" cy="546.7" r="8.33"/><circle cx="1667" cy="201.2" r="8.33"/><circle cx="1671" cy="207.2" r="8.33"/><circle cx="1665" cy="213.3" r="8.33"/><circle cx="1669" cy="209.3" r="8.33"/><circle cx="1675" cy="201.2" r="8.33"/><circle cx="1663" cy="203.2" r="8.33"/>
</g>
</g>
<g opacity="0.999">
<text x="1371.5" y="730.2" text-anchor="middle">0</text>
<text x="1528.7" y="730.2" text-anchor="middle">250</text>
<text x="1685.8" y="730.2" text-anchor="middle">500</text>
<text x="1843" y="730.2" text-anchor="middle">750</text>
<text x="2000.2" y="730.2" text-anchor="middle">1000</text>
<text x="2157.3" y="730.2" text-anchor="middle">1250</text>
<text x="2314.5" y="730.2" text-anchor="middle">1500</text>
<text x="1314.4" y="680.4" text-anchor="end">0</text>
<text x="1314.4" y="595.7" text-anchor="end">500</text>
<text x="1314.4" y="511" text-anchor="end">1000</text>
<text x="1314.4" y="426.3" text-anchor="end">1500</text>
<text x="1314.4" y="341.5" text-anchor="end">2000</text>
<text x="1314.4" y="256.8" text-anchor="end">2500</text>
<text x="1314.4" y="172.1" text-anchor="end">3000</text>
<text x="1314.4" y="87.4" text-anchor="end">3500</text>
<text x="1841" y="42.2" text-anchor="middle">channel=x1, geo=geo_b</text>
<text x="1841" y="770.2" text-anchor="middle">Channel Data (X)</text>
<text transform="translate(1226 378.5) rotate(-90)" text-anchor="middle">Channel Contribution (Y)</text>
</g>
</g>
<g id="p3">
<clipPath id="cp3"><rect x="139" y="844" width="1034" height="639"/></clipPath>
<rect x="139" y="844" width="1034" height="639" fill="#eeeeee"/>
<path d="M186 844V1483M344 844V1483M501 844V1483M658 844V1483M816 844V1483M974 844V1483M1131 844V1483M139 1454H1173M139 1360H1173M139 1267H1173M139 1174H1173M139 1080H1173M139 986H1173M139 893H1173" stroke="#fff" stroke-width="2" fill="none"/>
<g clip-path="url(#cp3)">
<polygon points="186,1454 217,1392 247.9,1330 269.3,1288.2 287.1,1261.4 305,1236.4 322.9,1218.6 345.2,1199.8 358.6,1190 378,1171.5 398.2,1152.9 418,1139 442.9,1117.1 460.7,1106.4 478.6,1093.9 501.4,1077 533.4,1056.6 567.2,1034.3 576.1,1032.5 604.6,1018.3 633,1005 658,995.2 670.4,993.4 698.9,982.7 716.7,981.8 747,972.9 782.5,965.8 818.1,959.6 859.1,952.8 869.8,955.7 900,952.8 926.7,950.4 936.8,945.1 1031.1,938.6 1041.2,945.5 1050.7,945.1 1060.2,936.8 1069.7,944.5 1125.7,942.7 1125.7,1156.4 1069.7,1156.2 1060.2,1148.1 1050.7,1155.9 1041.2,1155.9 1031.1,1148.1 936.8,1148.4 926.7,1152.6 900,1151.8 869.8,1151.8 859.1,1147.9 757.6,1148.6 747,1147.3 716.7,1148.2 698.9,1145.6 681.1,1147.3 670.4,1147 658,1144.3 643.7,1144.3 633,1142 576.1,1143.8 560.1,1141.1 538.7,1142 503.1,1150 480,1155 462,1161.5 445,1170 427,1181 409.2,1191.7 390,1203 367.5,1225.7 345.2,1252.5 313.9,1288.2 283.6,1330 186,1454" fill="#fa7c17" fill-opacity="0.25" stroke="#fa7c17" stroke-opacity="0.25" stroke-width="2.78" stroke-linejoin="round"/>
<g fill="none" stroke="#fa7c17" stroke-opacity="0.3" stroke-width="4.17" stroke-linecap="round" stroke-linejoin="round">
<polyline points="186,1454 193.8,1442.9 201.7,1431.8 209.5,1420.8 217.3,1409.7 225.2,1398.7 233,1387.8 240.8,1376.8 248.6,1366 256.5,1355.1 264.3,1344.4 272.1,1333.7 280,1323.1 287.8,1312.6 295.6,1302.2 303.5,1291.9 311.3,1281.7 319.1,1271.6 327,1261.6 334.8,1251.7 342.6,1242 350.4,1232.4 358.3,1222.9 366.1,1213.6 373.9,1204.3 381.8,1195.3 389.6,1186.4 397.4,1177.6 405.3,1169 413.1,1160.5 420.9,1152.2 428.8,1144.1 436.6,1136.1 444.4,1128.2 452.3,1120.5 460.1,1113 467.9,1105.7 475.7,1098.5 483.6,1091.4 491.4,1084.5 499.2,1077.8 507.1,1071.2 514.9,1064.8 522.7,1058.5 530.6,1052.4 538.4,1046.5 546.2,1040.7 554.1,1035 561.9,1029.5 569.7,1024.1 577.5,1018.9 585.4,1013.8 593.2,1008.9 601,1004.1 608.9,999.4 616.7,994.9 624.5,990.5 632.4,986.2 640.2,982 648,978 655.9,974 663.7,970.2 671.5,966.5 679.3,963 687.2,959.5 695,956.1 702.8,952.9 710.7,949.7 718.5,946.6 726.3,943.7 734.2,940.8 742,938 749.8,935.3 757.7,932.7 765.5,930.2 773.3,927.7 781.1,925.4 789,923.1 796.8,920.9 804.6,918.7 812.5,916.7 820.3,914.7 828.1,912.7 836,910.9 843.8,909 851.6,907.3 859.5,905.6 867.3,904 875.1,902.4 883,900.9 890.8,899.4 898.6,898 906.4,896.6 914.3,895.3 922.1,894 929.9,892.8 937.8,891.6 945.6,890.4 953.4,889.3 961.3,888.3 969.1,887.2 976.9,886.2 984.8,885.3 992.6,884.3 1000.4,883.4 1008.2,882.6 1016.1,881.7 1023.9,880.9 1031.7,880.2 1039.6,879.4 1047.4,878.7 1055.2,878 1063.1,877.3 1070.9,876.7 1078.7,876 1086.6,875.4 1094.4,874.9 1102.2,874.3 1110,873.8 1117.9,873.2 1125.7,872.7"/>
<polyline points="186,1454 193.8,1441.4 201.7,1428.7 209.5,1416.1 217.3,1403.6 225.2,1391.2 233,1378.8 240.8,1366.6 248.6,1354.4 256.5,1342.5 264.3,1330.7 272.1,1319.1 280,1307.6 287.8,1296.4 295.6,1285.4 303.5,1274.6 311.3,1264.1 319.1,1253.8 327,1243.7 334.8,1234 342.6,1224.4 350.4,1215.2 358.3,1206.2 366.1,1197.5 373.9,1189 381.8,1180.8 389.6,1172.9 397.4,1165.3 405.3,1157.9 413.1,1150.8 420.9,1144 428.8,1137.4 436.6,1131.1 444.4,1125 452.3,1119.2 460.1,1113.6 467.9,1108.2 475.7,1103.1 483.6,1098.1 491.4,1093.4 499.2,1088.9 507.1,1084.6 514.9,1080.5 522.7,1076.5 530.6,1072.8 538.4,1069.2 546.2,1065.8 554.1,1062.5 561.9,1059.4 569.7,1056.5 577.5,1053.7 585.4,1051 593.2,1048.4 601,1046 608.9,1043.7 616.7,1041.5 624.5,1039.5 632.4,1037.5 640.2,1035.6 648,1033.8 655.9,1032.1 663.7,1030.5 671.5,1029 679.3,1027.6 687.2,1026.2 695,1024.9 702.8,1023.7 710.7,1022.5 718.5,1021.4 726.3,1020.3 734.2,1019.3 742,1018.4 749.8,1017.5 757.7,1016.6 765.5,1015.8 773.3,1015.1 781.1,1014.4 789,1013.7 796.8,1013 804.6,1012.4 812.5,1011.8 820.3,1011.3 828.1,1010.8 836,1010.3 843.8,1009.8 851.6,1009.4 859.5,1009 867.3,1008.6 875.1,1008.2 883,1007.8 890.8,1007.5 898.6,1007.2 906.4,1006.9 914.3,1006.6 922.1,1006.3 929.9,1006.1 937.8,1005.8 945.6,1005.6 953.4,1005.4 961.3,1005.2 969.1,1005 976.9,1004.8 984.8,1004.6 992.6,1004.5 1000.4,1004.3 1008.2,1004.2 1016.1,1004 1023.9,1003.9 1031.7,1003.8 1039.6,1003.7 1047.4,1003.6 1055.2,1003.5 1063.1,1003.4 1070.9,1003.3 1078.7,1003.2 1086.6,1003.1 1094.4,1003 1102.2,1002.9 1110,1002.9 1117.9,1002.8 1125.7,1002.7"/>
<polyline points="186,1454 193.8,1441.9 201.7,1429.9 209.5,1417.9 217.3,1405.9 225.2,1394 233,1382.2 240.8,1370.5 248.6,1358.9 256.5,1347.4 264.3,1336.1 272.1,1324.9 280,1313.9 287.8,1303.1 295.6,1292.4 303.5,1282 311.3,1271.8 319.1,1261.8 327,1252 334.8,1242.5 342.6,1233.2 350.4,1224.1 358.3,1215.3 366.1,1206.7 373.9,1198.4 381.8,1190.3 389.6,1182.4 397.4,1174.8 405.3,1167.5 413.1,1160.4 420.9,1153.6 428.8,1146.9 436.6,1140.6 444.4,1134.4 452.3,1128.5 460.1,1122.8 467.9,1117.3 475.7,1112.1 483.6,1107 491.4,1102.2 499.2,1097.5 507.1,1093 514.9,1088.8 522.7,1084.7 530.6,1080.8 538.4,1077 546.2,1073.4 554.1,1070 561.9,1066.7 569.7,1063.6 577.5,1060.6 585.4,1057.7 593.2,1055 601,1052.4 608.9,1050 616.7,1047.6 624.5,1045.3 632.4,1043.2 640.2,1041.2 648,1039.2 655.9,1037.4 663.7,1035.6 671.5,1033.9 679.3,1032.3 687.2,1030.8 695,1029.4 702.8,1028 710.7,1026.7 718.5,1025.4 726.3,1024.3 734.2,1023.1 742,1022.1 749.8,1021.1 757.7,1020.1 765.5,1019.2 773.3,1018.3 781.1,1017.5 789,1016.7 796.8,1016 804.6,1015.3 812.5,1014.6 820.3,1014 828.1,1013.4 836,1012.8 843.8,1012.2 851.6,1011.7 859.5,1011.2 867.3,1010.8 875.1,1010.3 883,1009.9 890.8,1009.5 898.6,1009.1 906.4,1008.8 914.3,1008.4 922.1,1008.1 929.9,1007.8 937.8,1007.5 945.6,1007.2 953.4,1007 961.3,1006.7 969.1,1006.5 976.9,1006.3 984.8,1006.1 992.6,1005.9 1000.4,1005.7 1008.2,1005.5 1016.1,1005.3 1023.9,1005.2 1031.7,1005 1039.6,1004.9 1047.4,1004.7 1055.2,1004.6 1063.1,1004.5 1070.9,1004.4 1078.7,1004.2 1086.6,1004.1 1094.4,1004 1102.2,1003.9 1110,1003.9 1117.9,1003.8 1125.7,1003.7"/>
<polyline points="186,1454 193.8,1442.3 201.7,1430.5 209.5,1418.9 217.3,1407.2 225.2,1395.6 233,1384.1 240.8,1372.7 248.6,1361.4 256.5,1350.2 264.3,1339.2 272.1,1328.3 280,1317.6 287.8,1307 295.6,1296.6 303.5,1286.4 311.3,1276.4 319.1,1266.6 327,1257 334.8,1247.6 342.6,1238.4 350.4,1229.5 358.3,1220.8 366.1,1212.4 373.9,1204.1 381.8,1196.1 389.6,1188.4 397.4,1180.8 405.3,1173.5 413.1,1166.5 420.9,1159.7 428.8,1153.1 436.6,1146.7 444.4,1140.5 452.3,1134.6 460.1,1128.9 467.9,1123.4 475.7,1118.1 483.6,1113 491.4,1108.1 499.2,1103.4 507.1,1098.9 514.9,1094.6 522.7,1090.4 530.6,1086.4 538.4,1082.6 546.2,1079 554.1,1075.5 561.9,1072.1 569.7,1068.9 577.5,1065.9 585.4,1062.9 593.2,1060.1 601,1057.5 608.9,1054.9 616.7,1052.5 624.5,1050.1 632.4,1047.9 640.2,1045.8 648,1043.8 655.9,1041.9 663.7,1040 671.5,1038.3 679.3,1036.6 687.2,1035 695,1033.5 702.8,1032.1 710.7,1030.7 718.5,1029.4 726.3,1028.1 734.2,1027 742,1025.8 749.8,1024.8 757.7,1023.7 765.5,1022.8 773.3,1021.8 781.1,1021 789,1020.1 796.8,1019.3 804.6,1018.6 812.5,1017.9 820.3,1017.2 828.1,1016.5 836,1015.9 843.8,1015.3 851.6,1014.8 859.5,1014.2 867.3,1013.7 875.1,1013.3 883,1012.8 890.8,1012.4 898.6,1012 906.4,1011.6 914.3,1011.2 922.1,1010.9 929.9,1010.5 937.8,1010.2 945.6,1009.9 953.4,1009.6 961.3,1009.4 969.1,1009.1 976.9,1008.9 984.8,1008.6 992.6,1008.4 1000.4,1008.2 1008.2,1008 1016.1,1007.8 1023.9,1007.6 1031.7,1007.5 1039.6,1007.3 1047.4,1007.1 1055.2,1007 1063.1,1006.9 1070.9,1006.7 1078.7,1006.6 1086.6,1006.5 1094.4,1006.4 1102.2,1006.3 1110,1006.2 1117.9,1006.1 1125.7,1006"/>
<polyline points="186,1454 193.8,1441.8 201.7,1429.6 209.5,1417.5 217.3,1405.4 225.2,1393.4 233,1381.5 240.8,1369.7 248.6,1358.1 256.5,1346.6 264.3,1335.4 272.1,1324.3 280,1313.4 287.8,1302.7 295.6,1292.3 303.5,1282.1 311.3,1272.2 319.1,1262.5 327,1253.1 334.8,1244 342.6,1235.1 350.4,1226.5 358.3,1218.2 366.1,1210.2 373.9,1202.4 381.8,1195 389.6,1187.8 397.4,1180.9 405.3,1174.2 413.1,1167.8 420.9,1161.7 428.8,1155.9 436.6,1150.3 444.4,1144.9 452.3,1139.7 460.1,1134.8 467.9,1130.2 475.7,1125.7 483.6,1121.4 491.4,1117.4 499.2,1113.5 507.1,1109.8 514.9,1106.3 522.7,1103 530.6,1099.9 538.4,1096.9 546.2,1094 554.1,1091.3 561.9,1088.8 569.7,1086.3 577.5,1084 585.4,1081.8 593.2,1079.8 601,1077.8 608.9,1076 616.7,1074.2 624.5,1072.6 632.4,1071 640.2,1069.5 648,1068.1 655.9,1066.8 663.7,1065.5 671.5,1064.3 679.3,1063.2 687.2,1062.2 695,1061.2 702.8,1060.2 710.7,1059.3 718.5,1058.5 726.3,1057.7 734.2,1056.9 742,1056.2 749.8,1055.6 757.7,1054.9 765.5,1054.3 773.3,1053.8 781.1,1053.3 789,1052.8 796.8,1052.3 804.6,1051.8 812.5,1051.4 820.3,1051 828.1,1050.7 836,1050.3 843.8,1050 851.6,1049.7 859.5,1049.4 867.3,1049.1 875.1,1048.8 883,1048.6 890.8,1048.4 898.6,1048.1 906.4,1047.9 914.3,1047.7 922.1,1047.6 929.9,1047.4 937.8,1047.2 945.6,1047.1 953.4,1046.9 961.3,1046.8 969.1,1046.7 976.9,1046.5 984.8,1046.4 992.6,1046.3 1000.4,1046.2 1008.2,1046.1 1016.1,1046 1023.9,1045.9 1031.7,1045.9 1039.6,1045.8 1047.4,1045.7 1055.2,1045.7 1063.1,1045.6 1070.9,1045.5 1078.7,1045.5 1086.6,1045.4 1094.4,1045.4 1102.2,1045.3 1110,1045.3 1117.9,1045.2 1125.7,1045.2"/>
<polyline points="186,1454 193.8,1440.9 201.7,1427.7 209.5,1414.7 217.3,1401.7 225.2,1388.9 233,1376.2 240.8,1363.7 248.6,1351.4 256.5,1339.3 264.3,1327.4 272.1,1315.8 280,1304.5 287.8,1293.5 295.6,1282.8 303.5,1272.4 311.3,1262.4 319.1,1252.6 327,1243.3 334.8,1234.2 342.6,1225.6 350.4,1217.2 358.3,1209.2 366.1,1201.6 373.9,1194.2 381.8,1187.3 389.6,1180.6 397.4,1174.2 405.3,1168.2 413.1,1162.5 420.9,1157 428.8,1151.8 436.6,1146.9 444.4,1142.3 452.3,1137.9 460.1,1133.8 467.9,1129.8 475.7,1126.1 483.6,1122.6 491.4,1119.3 499.2,1116.2 507.1,1113.3 514.9,1110.6 522.7,1108 530.6,1105.5 538.4,1103.3 546.2,1101.1 554.1,1099.1 561.9,1097.2 569.7,1095.4 577.5,1093.8 585.4,1092.2 593.2,1090.7 601,1089.3 608.9,1088.1 616.7,1086.8 624.5,1085.7 632.4,1084.7 640.2,1083.7 648,1082.7 655.9,1081.9 663.7,1081 671.5,1080.3 679.3,1079.6 687.2,1078.9 695,1078.3 702.8,1077.7 710.7,1077.1 718.5,1076.6 726.3,1076.2 734.2,1075.7 742,1075.3 749.8,1074.9 757.7,1074.5 765.5,1074.2 773.3,1073.9 781.1,1073.6 789,1073.3 796.8,1073 804.6,1072.8 812.5,1072.6 820.3,1072.4 828.1,1072.2 836,1072 843.8,1071.8 851.6,1071.6 859.5,1071.5 867.3,1071.3 875.1,1071.2 883,1071.1 890.8,1071 898.6,1070.9 906.4,1070.8 914.3,1070.7 922.1,1070.6 929.9,1070.5 937.8,1070.4 945.6,1070.4 953.4,1070.3 961.3,1070.2 969.1,1070.2 976.9,1070.1 984.8,1070.1 992.6,1070 1000.4,1070 1008.2,1069.9 1016.1,1069.9 1023.9,1069.9 1031.7,1069.8 1039.6,1069.8 1047.4,1069.8 1055.2,1069.7 1063.1,1069.7 1070.9,1069.7 1078.7,1069.7 1086.6,1069.6 1094.4,1069.6 1102.2,1069.6 1110,1069.6 1117.9,1069.6 1125.7,1069.6"/>
<polyline points="186,1454 193.8,1441 201.7,1428 209.5,1415.1 217.3,1402.2 225.2,1389.6 233,1377.1 240.8,1364.8 248.6,1352.7 256.5,1340.9 264.3,1329.4 272.1,1318.1 280,1307.2 287.8,1296.7 295.6,1286.4 303.5,1276.6 311.3,1267.1 319.1,1258 327,1249.2 334.8,1240.8 342.6,1232.8 350.4,1225.2 358.3,1217.9 366.1,1211 373.9,1204.4 381.8,1198.2 389.6,1192.3 397.4,1186.8 405.3,1181.5 413.1,1176.5 420.9,1171.8 428.8,1167.4 436.6,1163.3 444.4,1159.4 452.3,1155.7 460.1,1152.3 467.9,1149.1 475.7,1146 483.6,1143.2 491.4,1140.6 499.2,1138.1 507.1,1135.8 514.9,1133.6 522.7,1131.6 530.6,1129.7 538.4,1128 546.2,1126.3 554.1,1124.8 561.9,1123.4 569.7,1122 577.5,1120.8 585.4,1119.6 593.2,1118.6 601,1117.6 608.9,1116.6 616.7,1115.8 624.5,1115 632.4,1114.2 640.2,1113.5 648,1112.9 655.9,1112.3 663.7,1111.7 671.5,1111.2 679.3,1110.7 687.2,1110.3 695,1109.8 702.8,1109.5 710.7,1109.1 718.5,1108.8 726.3,1108.5 734.2,1108.2 742,1107.9 749.8,1107.6 757.7,1107.4 765.5,1107.2 773.3,1107 781.1,1106.8 789,1106.6 796.8,1106.5 804.6,1106.3 812.5,1106.2 820.3,1106.1 828.1,1105.9 836,1105.8 843.8,1105.7 851.6,1105.6 859.5,1105.5 867.3,1105.5 875.1,1105.4 883,1105.3 890.8,1105.3 898.6,1105.2 906.4,1105.1 914.3,1105.1 922.1,1105 929.9,1105 937.8,1104.9 945.6,1104.9 953.4,1104.9 961.3,1104.8 969.1,1104.8 976.9,1104.8 984.8,1104.8 992.6,1104.7 1000.4,1104.7 1008.2,1104.7 1016.1,1104.7 1023.9,1104.6 1031.7,1104.6 1039.6,1104.6 1047.4,1104.6 1055.2,1104.6 1063.1,1104.6 1070.9,1104.6 1078.7,1104.5 1086.6,1104.5 1094.4,1104.5 1102.2,1104.5 1110,1104.5 1117.9,1104.5 1125.7,1104.5"/>
<polyline points="186,1454 193.8,1439.4 201.7,1424.9 209.5,1410.5 217.3,1396.2 225.2,1382.2 233,1368.4 240.8,1354.8 248.6,1341.6 256.5,1328.8 264.3,1316.3 272.1,1304.3 280,1292.7 287.8,1281.5 295.6,1270.8 303.5,1260.6 311.3,1250.8 319.1,1241.5 327,1232.7 334.8,1224.4 342.6,1216.5 350.4,1209.1 358.3,1202 366.1,1195.4 373.9,1189.3 381.8,1183.5 389.6,1178 397.4,1173 405.3,1168.2 413.1,1163.8 420.9,1159.7 428.8,1155.9 436.6,1152.3 444.4,1149 452.3,1146 460.1,1143.1 467.9,1140.5 475.7,1138 483.6,1135.8 491.4,1133.7 499.2,1131.8 507.1,1130 514.9,1128.3 522.7,1126.8 530.6,1125.4 538.4,1124.1 546.2,1122.9 554.1,1121.8 561.9,1120.8 569.7,1119.9 577.5,1119 585.4,1118.2 593.2,1117.5 601,1116.8 608.9,1116.2 616.7,1115.6 624.5,1115.1 632.4,1114.6 640.2,1114.2 648,1113.8 655.9,1113.4 663.7,1113 671.5,1112.7 679.3,1112.4 687.2,1112.2 695,1111.9 702.8,1111.7 710.7,1111.5 718.5,1111.3 726.3,1111.1 734.2,1110.9 742,1110.8 749.8,1110.6 757.7,1110.5 765.5,1110.4 773.3,1110.3 781.1,1110.2 789,1110.1 796.8,1110 804.6,1109.9 812.5,1109.9 820.3,1109.8 828.1,1109.8 836,1109.7 843.8,1109.6 851.6,1109.6 859.5,1109.6 867.3,1109.5 875.1,1109.5 883,1109.5 890.8,1109.4 898.6,1109.4 906.4,1109.4 914.3,1109.3 922.1,1109.3 929.9,1109.3 937.8,1109.3 945.6,1109.3 953.4,1109.3 961.3,1109.2 969.1,1109.2 976.9,1109.2 984.8,1109.2 992.6,1109.2 1000.4,1109.2 1008.2,1109.2 1016.1,1109.2 1023.9,1109.2 1031.7,1109.2 1039.6,1109.1 1047.4,1109.1 1055.2,1109.1 1063.1,1109.1 1070.9,1109.1 1078.7,1109.1 1086.6,1109.1 1094.4,1109.1 1102.2,1109.1 1110,1109.1 1117.9,1109.1 1125.7,1109.1"/>
<polyline points="186,1454 193.8,1438.7 201.7,1423.5 209.5,1408.5 217.3,1393.7 225.2,1379.1 233,1364.9 240.8,1351 248.6,1337.6 256.5,1324.6 264.3,1312.2 272.1,1300.3 280,1288.9 287.8,1278.1 295.6,1267.9 303.5,1258.2 311.3,1249.1 319.1,1240.6 327,1232.6 334.8,1225.1 342.6,1218.2 350.4,1211.7 358.3,1205.7 366.1,1200.1 373.9,1194.9 381.8,1190.2 389.6,1185.8 397.4,1181.8 405.3,1178 413.1,1174.6 420.9,1171.5 428.8,1168.6 436.6,1166 444.4,1163.6 452.3,1161.4 460.1,1159.4 467.9,1157.6 475.7,1155.9 483.6,1154.3 491.4,1153 499.2,1151.7 507.1,1150.5 514.9,1149.5 522.7,1148.5 530.6,1147.6 538.4,1146.8 546.2,1146.1 554.1,1145.5 561.9,1144.9 569.7,1144.3 577.5,1143.8 585.4,1143.4 593.2,1143 601,1142.6 608.9,1142.2 616.7,1141.9 624.5,1141.7 632.4,1141.4 640.2,1141.2 648,1141 655.9,1140.8 663.7,1140.6 671.5,1140.4 679.3,1140.3 687.2,1140.2 695,1140.1 702.8,1140 710.7,1139.9 718.5,1139.8 726.3,1139.7 734.2,1139.6 742,1139.5 749.8,1139.5 757.7,1139.4 765.5,1139.4 773.3,1139.3 781.1,1139.3 789,1139.3 796.8,1139.2 804.6,1139.2 812.5,1139.2 820.3,1139.1 828.1,1139.1 836,1139.1 843.8,1139.1 851.6,1139.1 859.5,1139.1 867.3,1139 875.1,1139 883,1139 890.8,1139 898.6,1139 906.4,1139 914.3,1139 922.1,1139 929.9,1139 937.8,1139 945.6,1139 953.4,1139 961.3,1138.9 969.1,1138.9 976.9,1138.9 984.8,1138.9 992.6,1138.9 1000.4,1138.9 1008.2,1138.9 1016.1,1138.9 1023.9,1138.9 1031.7,1138.9 1039.6,1138.9 1047.4,1138.9 1055.2,1138.9 1063.1,1138.9 1070.9,1138.9 1078.7,1138.9 1086.6,1138.9 1094.4,1138.9 1102.2,1138.9 1110,1138.9 1117.9,1138.9 1125.7,1138.9"/>
<polyline points="186,1454 193.8,1434.6 201.7,1415.4 209.5,1396.5 217.3,1378.1 225.2,1360.4 233,1343.3 240.8,1327.1 248.6,1311.9 256.5,1297.5 264.3,1284.2 272.1,1271.9 280,1260.5 287.8,1250.1 295.6,1240.6 303.5,1232 311.3,1224.2 319.1,1217.2 327,1210.9 334.8,1205.3 342.6,1200.3 350.4,1195.8 358.3,1191.8 366.1,1188.3 373.9,1185.1 381.8,1182.4 389.6,1179.9 397.4,1177.8 405.3,1175.9 413.1,1174.2 420.9,1172.7 428.8,1171.4 436.6,1170.3 444.4,1169.3 452.3,1168.4 460.1,1167.6 467.9,1166.9 475.7,1166.3 483.6,1165.8 491.4,1165.3 499.2,1164.9 507.1,1164.6 514.9,1164.3 522.7,1164 530.6,1163.8 538.4,1163.6 546.2,1163.4 554.1,1163.2 561.9,1163.1 569.7,1163 577.5,1162.8 585.4,1162.8 593.2,1162.7 601,1162.6 608.9,1162.5 616.7,1162.5 624.5,1162.4 632.4,1162.4 640.2,1162.4 648,1162.3 655.9,1162.3 663.7,1162.3 671.5,1162.2 679.3,1162.2 687.2,1162.2 695,1162.2 702.8,1162.2 710.7,1162.2 718.5,1162.2 726.3,1162.2 734.2,1162.1 742,1162.1 749.8,1162.1 757.7,1162.1 765.5,1162.1 773.3,1162.1 781.1,1162.1 789,1162.1 796.8,1162.1 804.6,1162.1 812.5,1162.1 820.3,1162.1 828.1,1162.1 836,1162.1 843.8,1162.1 851.6,1162.1 859.5,1162.1 867.3,1162.1 875.1,1162.1 883,1162.1 890.8,1162.1 898.6,1162.1 906.4,1162.1 914.3,1162.1 922.1,1162.1 929.9,1162.1 937.8,1162.1 945.6,1162.1 953.4,1162.1 961.3,1162.1 969.1,1162.1 976.9,1162.1 984.8,1162.1 992.6,1162.1 1000.4,1162.1 1008.2,1162.1 1016.1,1162.1 1023.9,1162.1 1031.7,1162.1 1039.6,1162.1 1047.4,1162.1 1055.2,1162.1 1063.1,1162.1 1070.9,1162.1 1078.7,1162.1 1086.6,1162.1 1094.4,1162.1 1102.2,1162.1 1110,1162.1 1117.9,1162.1 1125.7,1162.1"/>
</g>
<g fill="#fa7c17" fill-opacity="0.8" stroke="#fa7c17" stroke-opacity="0.8" stroke-width="2.78">
<circle cx="186.3" cy="1369.6" r="8.33"/><circle cx="186.3" cy="1373" r="8.33"/><circle cx="186.3" cy="1377" r="8.33"/><circle cx="186.3" cy="1381" r="8.33"/><circle cx="186.3" cy="1385" r="8.33"/><circle cx="186.3" cy="1388.5" r="8.33"/><circle cx="186.3" cy="1391.3" r="8.33"/><circle cx="186.3" cy="1438.7" r="8.33"/><circle cx="186.3" cy="1442" r="8.33"/><circle cx="186.3" cy="1451" r="8.33"/><circle cx="186.3" cy="1453" r="8.33"/><circle cx="186.3" cy="1454.5" r="8.33"/><circle cx="186.3" cy="1454.5" r="8.33"/><circle cx="475" cy="1128.3" r="8.33"/><circle cx="460.7" cy="1134.1" r="8.33"/><circle cx="459.8" cy="1135.9" r="8.33"/><circle cx="452.2" cy="1140.4" r="8.33"/><circle cx="500" cy="1142.6" r="8.33"/><circle cx="490.2" cy="1148.4" r="8.33"/><circle cx="483" cy="1152" r="8.33"/><circle cx="474.6" cy="1150.2" r="8.33"/><circle cx="469.6" cy="1158.2" r="8.33"/><circle cx="463.4" cy="1160.9" r="8.33"/><circle cx="457.1" cy="1165.4" r="8.33"/><circle cx="451.8" cy="1169.8" r="8.33"/><circle cx="440.6" cy="1166.3" r="8.33"/><circle cx="442.9" cy="1175.2" r="8.33"/><circle cx="439.3" cy="1179.6" r="8.33"/><circle cx="447.3" cy="1171.6" r="8.33"/><circle cx="495" cy="1145.5" r="8.33"/><circle cx="478" cy="1154" r="8.33"/><circle cx="466" cy="1159.5" r="8.33"/><circle cx="454" cy="1167.5" r="8.33"/><circle cx="186.3" cy="1369.6" r="8.33"/><circle cx="186.3" cy="1373" r="8.33"/><circle cx="186.3" cy="1377" r="8.33"/><circle cx="186.3" cy="1381" r="8.33"/><circle cx="186.3" cy="1385" r="8.33"/><circle cx="186.3" cy="1388.5" r="8.33"/><circle cx="186.3" cy="1391.3" r="8.33"/><circle cx="186.3" cy="1438.7" r="8.33"/><circle cx="186.3" cy="1442" r="8.33"/><circle cx="186.3" cy="1451" r="8.33"/><circle cx="186.3" cy="1453" r="8.33"/><circle cx="186.3" cy="1454.5" r="8.33"/><circle cx="186.3" cy="1454.5" r="8.33"/><circle cx="475" cy="1128.3" r="8.33"/><circle cx="460.7" cy="1134.1" r="8.33"/><circle cx="459.8" cy="1135.9" r="8.33"/><circle cx="452.2" cy="1140.4" r="8.33"/><circle cx="500" cy="1142.6" r="8.33"/><circle cx="490.2" cy="1148.4" r="8.33"/><circle cx="483" cy="1152" r="8.33"/><circle cx="474.6" cy="1150.2" r="8.33"/><circle cx="469.6" cy="1158.2" r="8.33"/><circle cx="463.4" cy="1160.9" r="8.33"/><circle cx="457.1" cy="1165.4" r="8.33"/><circle cx="451.8" cy="1169.8" r="8.33"/><circle cx="440.6" cy="1166.3" r="8.33"/><circle cx="442.9" cy="1175.2" r="8.33"/><circle cx="439.3" cy="1179.6" r="8.33"/><circle cx="447.3" cy="1171.6" r="8.33"/><circle cx="495" cy="1145.5" r="8.33"/><circle cx="478" cy="1154" r="8.33"/><circle cx="466" cy="1159.5" r="8.33"/><circle cx="454" cy="1167.5" r="8.33"/>
</g>
</g>
<g opacity="0.999">
<text x="186.5" y="1515.2" text-anchor="middle">0</text>
<text x="344" y="1515.2" text-anchor="middle">250</text>
<text x="501.5" y="1515.2" text-anchor="middle">500</text>
<text x="659" y="1515.2" text-anchor="middle">750</text>
<text x="816.5" y="1515.2" text-anchor="middle">1000</text>
<text x="974" y="1515.2" text-anchor="middle">1250</text>
<text x="1131.5" y="1515.2" text-anchor="middle">1500</text>
<text x="129.4" y="1465.4" text-anchor="end">0</text>
<text x="129.4" y="1371.9" text-anchor="end">500</text>
<text x="129.4" y="1278.4" text-anchor="end">1000</text>
<text x="129.4" y="1184.9" text-anchor="end">1500</text>
<text x="129.4" y="1091.4" text-anchor="end">2000</text>
<text x="129.4" y="997.9" text-anchor="end">2500</text>
<text x="129.4" y="904.4" text-anchor="end">3000</text>
<text x="656" y="827.2" text-anchor="middle">channel=x2, geo=geo_a</text>
<text x="656" y="1555.2" text-anchor="middle">Channel Data (X)</text>
<text transform="translate(41 1163.5) rotate(-90)" text-anchor="middle">Channel Contribution (Y)</text>
</g>
</g>
<g id="p4">
<clipPath id="cp4"><rect x="1324" y="844" width="1034" height="639"/></clipPath>
<rect x="1324" y="844" width="1034" height="639" fill="#eeeeee"/>
<path d="M1371 844V1483M1528 844V1483M1686 844V1483M1844 844V1483M2001 844V1483M2158 844V1483M2316 844V1483M1324 1454H2358M1324 1351H2358M1324 1247H2358M1324 1144H2358M1324 1040H2358M1324 937H2358" stroke="#fff" stroke-width="2" fill="none"/>
<g clip-path="url(#cp4)">
<polygon points="1371,1454 1402,1384.3 1432.9,1314.6 1454.3,1267.6 1472.1,1237.5 1490,1209.4 1507.9,1189.4 1530.2,1168.3 1543.6,1157.2 1563,1136.4 1583.2,1115.5 1603,1099.9 1627.9,1075.3 1645.7,1063.3 1663.6,1049.2 1686.4,1030.2 1718.4,1007.3 1752.2,982.2 1761.1,980.2 1789.6,964.2 1818,949.3 1843,938.3 1855.4,936.2 1883.9,924.2 1901.7,923.2 1932,913.2 1967.5,905.2 2003.1,898.2 2044.1,890.6 2054.8,893.9 2085,890.6 2111.7,887.9 2121.8,881.9 2216.1,874.6 2226.2,882.4 2235.7,881.9 2245.2,872.6 2254.7,881.3 2310.7,879.2 2310.7,1119.5 2254.7,1119.2 2245.2,1110.1 2235.7,1118.9 2226.2,1118.9 2216.1,1110.1 2121.8,1110.5 2111.7,1115.2 2085,1114.3 2054.8,1114.3 2044.1,1109.9 1942.6,1110.7 1932,1109.2 1901.7,1110.3 1883.9,1107.3 1866.1,1109.2 1855.4,1108.9 1843,1105.9 1828.7,1105.9 1818,1103.3 1761.1,1105.3 1745.1,1102.3 1723.7,1103.3 1688.1,1112.3 1665,1117.9 1647,1125.2 1630,1134.8 1612,1147.1 1594.2,1159.1 1575,1171.9 1552.5,1197.4 1530.2,1227.5 1498.9,1267.6 1468.6,1314.6 1371,1454" fill="#fa7c17" fill-opacity="0.25" stroke="#fa7c17" stroke-opacity="0.25" stroke-width="2.78" stroke-linejoin="round"/>
<g fill="none" stroke="#fa7c17" stroke-opacity="0.3" stroke-width="4.17" stroke-linecap="round" stroke-linejoin="round">
<polyline points="1371,1454 1378.8,1441 1386.7,1428.1 1394.5,1415.2 1402.3,1402.3 1410.2,1389.5 1418,1376.7 1425.8,1364.1 1433.6,1351.5 1441.5,1339 1449.3,1326.7 1457.1,1314.4 1465,1302.3 1472.8,1290.4 1480.6,1278.6 1488.5,1267 1496.3,1255.5 1504.1,1244.3 1512,1233.2 1519.8,1222.3 1527.6,1211.7 1535.4,1201.2 1543.3,1191 1551.1,1180.9 1558.9,1171.1 1566.8,1161.6 1574.6,1152.2 1582.4,1143.1 1590.3,1134.2 1598.1,1125.5 1605.9,1117.1 1613.8,1108.9 1621.6,1100.9 1629.4,1093.1 1637.3,1085.6 1645.1,1078.3 1652.9,1071.2 1660.7,1064.3 1668.6,1057.7 1676.4,1051.2 1684.2,1045 1692.1,1039 1699.9,1033.1 1707.7,1027.5 1715.6,1022.1 1723.4,1016.8 1731.2,1011.7 1739.1,1006.8 1746.9,1002.1 1754.7,997.6 1762.5,993.2 1770.4,989 1778.2,984.9 1786,981 1793.9,977.3 1801.7,973.7 1809.5,970.2 1817.4,966.8 1825.2,963.6 1833,960.6 1840.9,957.6 1848.7,954.7 1856.5,952 1864.3,949.4 1872.2,946.9 1880,944.5 1887.8,942.1 1895.7,939.9 1903.5,937.8 1911.3,935.8 1919.2,933.8 1927,931.9 1934.8,930.1 1942.7,928.4 1950.5,926.8 1958.3,925.2 1966.1,923.7 1974,922.2 1981.8,920.8 1989.6,919.5 1997.5,918.2 2005.3,917 2013.1,915.8 2021,914.7 2028.8,913.7 2036.6,912.6 2044.5,911.7 2052.3,910.7 2060.1,909.8 2068,909 2075.8,908.1 2083.6,907.4 2091.4,906.6 2099.3,905.9 2107.1,905.2 2114.9,904.6 2122.8,903.9 2130.6,903.3 2138.4,902.8 2146.3,902.2 2154.1,901.7 2161.9,901.2 2169.8,900.7 2177.6,900.3 2185.4,899.8 2193.2,899.4 2201.1,899 2208.9,898.6 2216.7,898.3 2224.6,897.9 2232.4,897.6 2240.2,897.3 2248.1,897 2255.9,896.7 2263.7,896.4 2271.6,896.1 2279.4,895.9 2287.2,895.6 2295,895.4 2302.9,895.2 2310.7,895"/>
<polyline points="1371,1454 1378.8,1440.3 1386.7,1426.7 1394.5,1413.1 1402.3,1399.6 1410.2,1386.1 1418,1372.7 1425.8,1359.4 1433.6,1346.2 1441.5,1333.2 1449.3,1320.3 1457.1,1307.6 1465,1295 1472.8,1282.7 1480.6,1270.5 1488.5,1258.5 1496.3,1246.8 1504.1,1235.3 1512,1224 1519.8,1213 1527.6,1202.3 1535.4,1191.7 1543.3,1181.5 1551.1,1171.5 1558.9,1161.7 1566.8,1152.3 1574.6,1143.1 1582.4,1134.2 1590.3,1125.5 1598.1,1117.1 1605.9,1109 1613.8,1101.1 1621.6,1093.5 1629.4,1086.1 1637.3,1079 1645.1,1072.2 1652.9,1065.6 1660.7,1059.2 1668.6,1053.1 1676.4,1047.2 1684.2,1041.5 1692.1,1036 1699.9,1030.8 1707.7,1025.7 1715.6,1020.9 1723.4,1016.3 1731.2,1011.8 1739.1,1007.5 1746.9,1003.4 1754.7,999.5 1762.5,995.8 1770.4,992.2 1778.2,988.7 1786,985.4 1793.9,982.3 1801.7,979.3 1809.5,976.4 1817.4,973.6 1825.2,971 1833,968.5 1840.9,966.1 1848.7,963.8 1856.5,961.6 1864.3,959.5 1872.2,957.5 1880,955.6 1887.8,953.8 1895.7,952.1 1903.5,950.5 1911.3,948.9 1919.2,947.4 1927,946 1934.8,944.6 1942.7,943.3 1950.5,942.1 1958.3,940.9 1966.1,939.8 1974,938.7 1981.8,937.7 1989.6,936.8 1997.5,935.9 2005.3,935 2013.1,934.1 2021,933.4 2028.8,932.6 2036.6,931.9 2044.5,931.2 2052.3,930.5 2060.1,929.9 2068,929.3 2075.8,928.8 2083.6,928.3 2091.4,927.7 2099.3,927.3 2107.1,926.8 2114.9,926.4 2122.8,926 2130.6,925.6 2138.4,925.2 2146.3,924.8 2154.1,924.5 2161.9,924.2 2169.8,923.9 2177.6,923.6 2185.4,923.3 2193.2,923 2201.1,922.8 2208.9,922.5 2216.7,922.3 2224.6,922.1 2232.4,921.9 2240.2,921.7 2248.1,921.5 2255.9,921.3 2263.7,921.2 2271.6,921 2279.4,920.9 2287.2,920.7 2295,920.6 2302.9,920.5 2310.7,920.3"/>
<polyline points="1371,1454 1378.8,1439.1 1386.7,1424.2 1394.5,1409.4 1402.3,1394.6 1410.2,1380 1418,1365.5 1425.8,1351.1 1433.6,1337 1441.5,1323 1449.3,1309.3 1457.1,1295.8 1465,1282.5 1472.8,1269.6 1480.6,1256.9 1488.5,1244.6 1496.3,1232.5 1504.1,1220.8 1512,1209.5 1519.8,1198.4 1527.6,1187.7 1535.4,1177.4 1543.3,1167.4 1551.1,1157.8 1558.9,1148.5 1566.8,1139.5 1574.6,1130.9 1582.4,1122.7 1590.3,1114.7 1598.1,1107.1 1605.9,1099.9 1613.8,1092.9 1621.6,1086.2 1629.4,1079.9 1637.3,1073.8 1645.1,1068 1652.9,1062.5 1660.7,1057.2 1668.6,1052.2 1676.4,1047.4 1684.2,1042.9 1692.1,1038.6 1699.9,1034.5 1707.7,1030.6 1715.6,1027 1723.4,1023.5 1731.2,1020.2 1739.1,1017 1746.9,1014.1 1754.7,1011.3 1762.5,1008.6 1770.4,1006.1 1778.2,1003.7 1786,1001.4 1793.9,999.3 1801.7,997.3 1809.5,995.4 1817.4,993.6 1825.2,991.9 1833,990.3 1840.9,988.8 1848.7,987.4 1856.5,986 1864.3,984.8 1872.2,983.6 1880,982.4 1887.8,981.4 1895.7,980.4 1903.5,979.4 1911.3,978.5 1919.2,977.7 1927,976.9 1934.8,976.1 1942.7,975.4 1950.5,974.8 1958.3,974.2 1966.1,973.6 1974,973 1981.8,972.5 1989.6,972 1997.5,971.5 2005.3,971.1 2013.1,970.7 2021,970.3 2028.8,969.9 2036.6,969.6 2044.5,969.3 2052.3,969 2060.1,968.7 2068,968.4 2075.8,968.2 2083.6,967.9 2091.4,967.7 2099.3,967.5 2107.1,967.3 2114.9,967.1 2122.8,966.9 2130.6,966.7 2138.4,966.6 2146.3,966.4 2154.1,966.3 2161.9,966.2 2169.8,966.1 2177.6,965.9 2185.4,965.8 2193.2,965.7 2201.1,965.6 2208.9,965.5 2216.7,965.5 2224.6,965.4 2232.4,965.3 2240.2,965.2 2248.1,965.2 2255.9,965.1 2263.7,965 2271.6,965 2279.4,964.9 2287.2,964.9 2295,964.8 2302.9,964.8 2310.7,964.7"/>
<polyline points="1371,1454 1378.8,1438.6 1386.7,1423.2 1394.5,1407.9 1402.3,1392.7 1410.2,1377.6 1418,1362.7 1425.8,1347.9 1433.6,1333.5 1441.5,1319.2 1449.3,1305.3 1457.1,1291.6 1465,1278.3 1472.8,1265.3 1480.6,1252.6 1488.5,1240.3 1496.3,1228.4 1504.1,1216.9 1512,1205.8 1519.8,1195 1527.6,1184.7 1535.4,1174.8 1543.3,1165.2 1551.1,1156.1 1558.9,1147.3 1566.8,1139 1574.6,1131 1582.4,1123.3 1590.3,1116.1 1598.1,1109.1 1605.9,1102.6 1613.8,1096.3 1621.6,1090.4 1629.4,1084.8 1637.3,1079.4 1645.1,1074.4 1652.9,1069.6 1660.7,1065.1 1668.6,1060.8 1676.4,1056.8 1684.2,1053 1692.1,1049.4 1699.9,1046 1707.7,1042.9 1715.6,1039.9 1723.4,1037 1731.2,1034.4 1739.1,1031.9 1746.9,1029.5 1754.7,1027.3 1762.5,1025.3 1770.4,1023.3 1778.2,1021.5 1786,1019.8 1793.9,1018.2 1801.7,1016.6 1809.5,1015.2 1817.4,1013.9 1825.2,1012.6 1833,1011.5 1840.9,1010.4 1848.7,1009.4 1856.5,1008.4 1864.3,1007.5 1872.2,1006.6 1880,1005.9 1887.8,1005.1 1895.7,1004.4 1903.5,1003.8 1911.3,1003.2 1919.2,1002.6 1927,1002 1934.8,1001.5 1942.7,1001.1 1950.5,1000.6 1958.3,1000.2 1966.1,999.8 1974,999.5 1981.8,999.2 1989.6,998.8 1997.5,998.5 2005.3,998.3 2013.1,998 2021,997.8 2028.8,997.5 2036.6,997.3 2044.5,997.1 2052.3,997 2060.1,996.8 2068,996.6 2075.8,996.5 2083.6,996.3 2091.4,996.2 2099.3,996.1 2107.1,996 2114.9,995.8 2122.8,995.7 2130.6,995.6 2138.4,995.6 2146.3,995.5 2154.1,995.4 2161.9,995.3 2169.8,995.3 2177.6,995.2 2185.4,995.1 2193.2,995.1 2201.1,995 2208.9,995 2216.7,994.9 2224.6,994.9 2232.4,994.9 2240.2,994.8 2248.1,994.8 2255.9,994.8 2263.7,994.7 2271.6,994.7 2279.4,994.7 2287.2,994.6 2295,994.6 2302.9,994.6 2310.7,994.6"/>
<polyline points="1371,1454 1378.8,1438.4 1386.7,1422.8 1394.5,1407.2 1402.3,1391.8 1410.2,1376.5 1418,1361.4 1425.8,1346.5 1433.6,1331.9 1441.5,1317.5 1449.3,1303.4 1457.1,1289.6 1465,1276.1 1472.8,1263 1480.6,1250.3 1488.5,1238 1496.3,1226 1504.1,1214.4 1512,1203.3 1519.8,1192.5 1527.6,1182.2 1535.4,1172.3 1543.3,1162.8 1551.1,1153.7 1558.9,1145 1566.8,1136.6 1574.6,1128.7 1582.4,1121.2 1590.3,1114 1598.1,1107.1 1605.9,1100.7 1613.8,1094.5 1621.6,1088.7 1629.4,1083.1 1637.3,1077.9 1645.1,1073 1652.9,1068.3 1660.7,1063.9 1668.6,1059.8 1676.4,1055.8 1684.2,1052.2 1692.1,1048.7 1699.9,1045.4 1707.7,1042.3 1715.6,1039.4 1723.4,1036.7 1731.2,1034.2 1739.1,1031.7 1746.9,1029.5 1754.7,1027.4 1762.5,1025.4 1770.4,1023.5 1778.2,1021.8 1786,1020.1 1793.9,1018.6 1801.7,1017.2 1809.5,1015.8 1817.4,1014.6 1825.2,1013.4 1833,1012.3 1840.9,1011.2 1848.7,1010.3 1856.5,1009.4 1864.3,1008.5 1872.2,1007.7 1880,1007 1887.8,1006.3 1895.7,1005.6 1903.5,1005 1911.3,1004.5 1919.2,1003.9 1927,1003.4 1934.8,1003 1942.7,1002.5 1950.5,1002.1 1958.3,1001.7 1966.1,1001.4 1974,1001.1 1981.8,1000.8 1989.6,1000.5 1997.5,1000.2 2005.3,999.9 2013.1,999.7 2021,999.5 2028.8,999.3 2036.6,999.1 2044.5,998.9 2052.3,998.7 2060.1,998.6 2068,998.4 2075.8,998.3 2083.6,998.2 2091.4,998 2099.3,997.9 2107.1,997.8 2114.9,997.7 2122.8,997.6 2130.6,997.6 2138.4,997.5 2146.3,997.4 2154.1,997.3 2161.9,997.3 2169.8,997.2 2177.6,997.2 2185.4,997.1 2193.2,997 2201.1,997 2208.9,997 2216.7,996.9 2224.6,996.9 2232.4,996.8 2240.2,996.8 2248.1,996.8 2255.9,996.8 2263.7,996.7 2271.6,996.7 2279.4,996.7 2287.2,996.7 2295,996.6 2302.9,996.6 2310.7,996.6"/>
<polyline points="1371,1454 1378.8,1438.4 1386.7,1422.9 1394.5,1407.4 1402.3,1392.1 1410.2,1376.9 1418,1361.9 1425.8,1347.1 1433.6,1332.6 1441.5,1318.3 1449.3,1304.4 1457.1,1290.8 1465,1277.5 1472.8,1264.6 1480.6,1252.1 1488.5,1240 1496.3,1228.3 1504.1,1217.1 1512,1206.2 1519.8,1195.8 1527.6,1185.8 1535.4,1176.2 1543.3,1167.1 1551.1,1158.3 1558.9,1150 1566.8,1142 1574.6,1134.5 1582.4,1127.3 1590.3,1120.5 1598.1,1114.1 1605.9,1108 1613.8,1102.2 1621.6,1096.7 1629.4,1091.6 1637.3,1086.7 1645.1,1082.1 1652.9,1077.8 1660.7,1073.8 1668.6,1069.9 1676.4,1066.3 1684.2,1063 1692.1,1059.8 1699.9,1056.8 1707.7,1054 1715.6,1051.4 1723.4,1049 1731.2,1046.7 1739.1,1044.5 1746.9,1042.5 1754.7,1040.6 1762.5,1038.9 1770.4,1037.2 1778.2,1035.7 1786,1034.2 1793.9,1032.9 1801.7,1031.6 1809.5,1030.5 1817.4,1029.4 1825.2,1028.3 1833,1027.4 1840.9,1026.5 1848.7,1025.7 1856.5,1024.9 1864.3,1024.2 1872.2,1023.5 1880,1022.8 1887.8,1022.3 1895.7,1021.7 1903.5,1021.2 1911.3,1020.7 1919.2,1020.3 1927,1019.8 1934.8,1019.5 1942.7,1019.1 1950.5,1018.8 1958.3,1018.4 1966.1,1018.2 1974,1017.9 1981.8,1017.6 1989.6,1017.4 1997.5,1017.2 2005.3,1017 2013.1,1016.8 2021,1016.6 2028.8,1016.4 2036.6,1016.3 2044.5,1016.1 2052.3,1016 2060.1,1015.9 2068,1015.7 2075.8,1015.6 2083.6,1015.5 2091.4,1015.4 2099.3,1015.3 2107.1,1015.3 2114.9,1015.2 2122.8,1015.1 2130.6,1015 2138.4,1015 2146.3,1014.9 2154.1,1014.9 2161.9,1014.8 2169.8,1014.8 2177.6,1014.7 2185.4,1014.7 2193.2,1014.7 2201.1,1014.6 2208.9,1014.6 2216.7,1014.6 2224.6,1014.5 2232.4,1014.5 2240.2,1014.5 2248.1,1014.5 2255.9,1014.4 2263.7,1014.4 2271.6,1014.4 2279.4,1014.4 2287.2,1014.4 2295,1014.3 2302.9,1014.3 2310.7,1014.3"/>
<polyline points="1371,1454 1378.8,1437.5 1386.7,1421 1394.5,1404.6 1402.3,1388.4 1410.2,1372.4 1418,1356.6 1425.8,1341.1 1433.6,1326 1441.5,1311.1 1449.3,1296.7 1457.1,1282.7 1465,1269.1 1472.8,1256 1480.6,1243.3 1488.5,1231.2 1496.3,1219.5 1504.1,1208.3 1512,1197.6 1519.8,1187.5 1527.6,1177.8 1535.4,1168.6 1543.3,1159.8 1551.1,1151.6 1558.9,1143.7 1566.8,1136.4 1574.6,1129.4 1582.4,1122.8 1590.3,1116.7 1598.1,1110.9 1605.9,1105.5 1613.8,1100.4 1621.6,1095.6 1629.4,1091.1 1637.3,1087 1645.1,1083.1 1652.9,1079.4 1660.7,1076.1 1668.6,1072.9 1676.4,1069.9 1684.2,1067.2 1692.1,1064.6 1699.9,1062.3 1707.7,1060.1 1715.6,1058 1723.4,1056.1 1731.2,1054.3 1739.1,1052.7 1746.9,1051.2 1754.7,1049.7 1762.5,1048.4 1770.4,1047.2 1778.2,1046.1 1786,1045 1793.9,1044 1801.7,1043.1 1809.5,1042.3 1817.4,1041.5 1825.2,1040.8 1833,1040.2 1840.9,1039.5 1848.7,1039 1856.5,1038.4 1864.3,1038 1872.2,1037.5 1880,1037.1 1887.8,1036.7 1895.7,1036.3 1903.5,1036 1911.3,1035.7 1919.2,1035.4 1927,1035.2 1934.8,1034.9 1942.7,1034.7 1950.5,1034.5 1958.3,1034.3 1966.1,1034.1 1974,1033.9 1981.8,1033.8 1989.6,1033.7 1997.5,1033.5 2005.3,1033.4 2013.1,1033.3 2021,1033.2 2028.8,1033.1 2036.6,1033 2044.5,1032.9 2052.3,1032.8 2060.1,1032.8 2068,1032.7 2075.8,1032.7 2083.6,1032.6 2091.4,1032.5 2099.3,1032.5 2107.1,1032.5 2114.9,1032.4 2122.8,1032.4 2130.6,1032.3 2138.4,1032.3 2146.3,1032.3 2154.1,1032.3 2161.9,1032.2 2169.8,1032.2 2177.6,1032.2 2185.4,1032.2 2193.2,1032.1 2201.1,1032.1 2208.9,1032.1 2216.7,1032.1 2224.6,1032.1 2232.4,1032.1 2240.2,1032.1 2248.1,1032.1 2255.9,1032 2263.7,1032 2271.6,1032 2279.4,1032 2287.2,1032 2295,1032 2302.9,1032 2310.7,1032"/>
<polyline points="1371,1454 1378.8,1439.1 1386.7,1424.1 1394.5,1409.3 1402.3,1394.6 1410.2,1380 1418,1365.6 1425.8,1351.4 1433.6,1337.5 1441.5,1323.8 1449.3,1310.4 1457.1,1297.4 1465,1284.7 1472.8,1272.3 1480.6,1260.3 1488.5,1248.7 1496.3,1237.5 1504.1,1226.7 1512,1216.2 1519.8,1206.2 1527.6,1196.6 1535.4,1187.5 1543.3,1178.7 1551.1,1170.3 1558.9,1162.3 1566.8,1154.6 1574.6,1147.4 1582.4,1140.5 1590.3,1134 1598.1,1127.8 1605.9,1121.9 1613.8,1116.4 1621.6,1111.2 1629.4,1106.2 1637.3,1101.6 1645.1,1097.2 1652.9,1093 1660.7,1089.1 1668.6,1085.5 1676.4,1082 1684.2,1078.8 1692.1,1075.7 1699.9,1072.9 1707.7,1070.2 1715.6,1067.7 1723.4,1065.4 1731.2,1063.2 1739.1,1061.1 1746.9,1059.2 1754.7,1057.4 1762.5,1055.7 1770.4,1054.1 1778.2,1052.6 1786,1051.2 1793.9,1049.9 1801.7,1048.7 1809.5,1047.6 1817.4,1046.5 1825.2,1045.6 1833,1044.6 1840.9,1043.8 1848.7,1043 1856.5,1042.2 1864.3,1041.5 1872.2,1040.9 1880,1040.3 1887.8,1039.7 1895.7,1039.2 1903.5,1038.7 1911.3,1038.2 1919.2,1037.8 1927,1037.4 1934.8,1037 1942.7,1036.7 1950.5,1036.4 1958.3,1036.1 1966.1,1035.8 1974,1035.5 1981.8,1035.3 1989.6,1035 1997.5,1034.8 2005.3,1034.6 2013.1,1034.4 2021,1034.3 2028.8,1034.1 2036.6,1034 2044.5,1033.8 2052.3,1033.7 2060.1,1033.6 2068,1033.5 2075.8,1033.4 2083.6,1033.3 2091.4,1033.2 2099.3,1033.1 2107.1,1033 2114.9,1032.9 2122.8,1032.9 2130.6,1032.8 2138.4,1032.7 2146.3,1032.7 2154.1,1032.6 2161.9,1032.6 2169.8,1032.5 2177.6,1032.5 2185.4,1032.5 2193.2,1032.4 2201.1,1032.4 2208.9,1032.4 2216.7,1032.3 2224.6,1032.3 2232.4,1032.3 2240.2,1032.2 2248.1,1032.2 2255.9,1032.2 2263.7,1032.2 2271.6,1032.2 2279.4,1032.1 2287.2,1032.1 2295,1032.1 2302.9,1032.1 2310.7,1032.1"/>
<polyline points="1371,1454 1378.8,1439.8 1386.7,1425.6 1394.5,1411.4 1402.3,1397.4 1410.2,1383.5 1418,1369.7 1425.8,1356.2 1433.6,1342.8 1441.5,1329.7 1449.3,1316.9 1457.1,1304.3 1465,1292.1 1472.8,1280.1 1480.6,1268.5 1488.5,1257.3 1496.3,1246.4 1504.1,1235.9 1512,1225.7 1519.8,1215.9 1527.6,1206.5 1535.4,1197.5 1543.3,1188.8 1551.1,1180.5 1558.9,1172.6 1566.8,1165 1574.6,1157.8 1582.4,1150.9 1590.3,1144.4 1598.1,1138.2 1605.9,1132.3 1613.8,1126.7 1621.6,1121.4 1629.4,1116.3 1637.3,1111.6 1645.1,1107.1 1652.9,1102.8 1660.7,1098.8 1668.6,1095 1676.4,1091.5 1684.2,1088.1 1692.1,1084.9 1699.9,1082 1707.7,1079.2 1715.6,1076.5 1723.4,1074 1731.2,1071.7 1739.1,1069.5 1746.9,1067.5 1754.7,1065.5 1762.5,1063.7 1770.4,1062 1778.2,1060.5 1786,1059 1793.9,1057.6 1801.7,1056.3 1809.5,1055 1817.4,1053.9 1825.2,1052.8 1833,1051.8 1840.9,1050.9 1848.7,1050 1856.5,1049.2 1864.3,1048.4 1872.2,1047.7 1880,1047 1887.8,1046.3 1895.7,1045.8 1903.5,1045.2 1911.3,1044.7 1919.2,1044.2 1927,1043.7 1934.8,1043.3 1942.7,1042.9 1950.5,1042.6 1958.3,1042.2 1966.1,1041.9 1974,1041.6 1981.8,1041.3 1989.6,1041 1997.5,1040.8 2005.3,1040.6 2013.1,1040.4 2021,1040.1 2028.8,1040 2036.6,1039.8 2044.5,1039.6 2052.3,1039.5 2060.1,1039.3 2068,1039.2 2075.8,1039.1 2083.6,1039 2091.4,1038.8 2099.3,1038.7 2107.1,1038.6 2114.9,1038.6 2122.8,1038.5 2130.6,1038.4 2138.4,1038.3 2146.3,1038.3 2154.1,1038.2 2161.9,1038.1 2169.8,1038.1 2177.6,1038 2185.4,1038 2193.2,1037.9 2201.1,1037.9 2208.9,1037.9 2216.7,1037.8 2224.6,1037.8 2232.4,1037.7 2240.2,1037.7 2248.1,1037.7 2255.9,1037.7 2263.7,1037.6 2271.6,1037.6 2279.4,1037.6 2287.2,1037.6 2295,1037.6 2302.9,1037.5 2310.7,1037.5"/>
<polyline points="1371,1454 1378.8,1434.9 1386.7,1415.8 1394.5,1397.1 1402.3,1378.7 1410.2,1360.8 1418,1343.4 1425.8,1326.7 1433.6,1310.8 1441.5,1295.6 1449.3,1281.2 1457.1,1267.7 1465,1255 1472.8,1243.2 1480.6,1232.2 1488.5,1222 1496.3,1212.6 1504.1,1204 1512,1196.1 1519.8,1188.9 1527.6,1182.3 1535.4,1176.3 1543.3,1170.8 1551.1,1165.9 1558.9,1161.4 1566.8,1157.4 1574.6,1153.8 1582.4,1150.5 1590.3,1147.6 1598.1,1144.9 1605.9,1142.5 1613.8,1140.4 1621.6,1138.5 1629.4,1136.8 1637.3,1135.3 1645.1,1133.9 1652.9,1132.7 1660.7,1131.6 1668.6,1130.6 1676.4,1129.7 1684.2,1128.9 1692.1,1128.2 1699.9,1127.6 1707.7,1127.1 1715.6,1126.6 1723.4,1126.1 1731.2,1125.7 1739.1,1125.4 1746.9,1125.1 1754.7,1124.8 1762.5,1124.5 1770.4,1124.3 1778.2,1124.1 1786,1123.9 1793.9,1123.8 1801.7,1123.6 1809.5,1123.5 1817.4,1123.4 1825.2,1123.3 1833,1123.2 1840.9,1123.1 1848.7,1123.1 1856.5,1123 1864.3,1123 1872.2,1122.9 1880,1122.9 1887.8,1122.8 1895.7,1122.8 1903.5,1122.8 1911.3,1122.7 1919.2,1122.7 1927,1122.7 1934.8,1122.7 1942.7,1122.6 1950.5,1122.6 1958.3,1122.6 1966.1,1122.6 1974,1122.6 1981.8,1122.6 1989.6,1122.6 1997.5,1122.6 2005.3,1122.6 2013.1,1122.6 2021,1122.5 2028.8,1122.5 2036.6,1122.5 2044.5,1122.5 2052.3,1122.5 2060.1,1122.5 2068,1122.5 2075.8,1122.5 2083.6,1122.5 2091.4,1122.5 2099.3,1122.5 2107.1,1122.5 2114.9,1122.5 2122.8,1122.5 2130.6,1122.5 2138.4,1122.5 2146.3,1122.5 2154.1,1122.5 2161.9,1122.5 2169.8,1122.5 2177.6,1122.5 2185.4,1122.5 2193.2,1122.5 2201.1,1122.5 2208.9,1122.5 2216.7,1122.5 2224.6,1122.5 2232.4,1122.5 2240.2,1122.5 2248.1,1122.5 2255.9,1122.5 2263.7,1122.5 2271.6,1122.5 2279.4,1122.5 2287.2,1122.5 2295,1122.5 2302.9,1122.5 2310.7,1122.5"/>
</g>
<g fill="#fa7c17" fill-opacity="0.8" stroke="#fa7c17" stroke-opacity="0.8" stroke-width="2.78">
<circle cx="1371.3" cy="1359" r="8.33"/><circle cx="1371.3" cy="1362.8" r="8.33"/><circle cx="1371.3" cy="1367.3" r="8.33"/><circle cx="1371.3" cy="1371.8" r="8.33"/><circle cx="1371.3" cy="1376.3" r="8.33"/><circle cx="1371.3" cy="1380.3" r="8.33"/><circle cx="1371.3" cy="1383.4" r="8.33"/><circle cx="1371.3" cy="1436.8" r="8.33"/><circle cx="1371.3" cy="1440.5" r="8.33"/><circle cx="1371.3" cy="1450.6" r="8.33"/><circle cx="1371.3" cy="1452.9" r="8.33"/><circle cx="1371.3" cy="1454.6" r="8.33"/><circle cx="1371.3" cy="1454.6" r="8.33"/><circle cx="1660" cy="1087.3" r="8.33"/><circle cx="1645.7" cy="1093.9" r="8.33"/><circle cx="1644.8" cy="1095.9" r="8.33"/><circle cx="1637.2" cy="1100.9" r="8.33"/><circle cx="1685" cy="1103.4" r="8.33"/><circle cx="1675.2" cy="1110" r="8.33"/><circle cx="1668" cy="1114" r="8.33"/><circle cx="1659.6" cy="1112" r="8.33"/><circle cx="1654.6" cy="1121" r="8.33"/><circle cx="1648.4" cy="1124" r="8.33"/><circle cx="1642.1" cy="1129.1" r="8.33"/><circle cx="1636.8" cy="1134" r="8.33"/><circle cx="1625.6" cy="1130.1" r="8.33"/><circle cx="1627.9" cy="1140.1" r="8.33"/><circle cx="1624.3" cy="1145.1" r="8.33"/><circle cx="1632.3" cy="1136.1" r="8.33"/><circle cx="1680" cy="1106.7" r="8.33"/><circle cx="1663" cy="1116.3" r="8.33"/><circle cx="1651" cy="1122.5" r="8.33"/><circle cx="1639" cy="1131.5" r="8.33"/><circle cx="1371.3" cy="1359" r="8.33"/><circle cx="1371.3" cy="1362.8" r="8.33"/><circle cx="1371.3" cy="1367.3" r="8.33"/><circle cx="1371.3" cy="1371.8" r="8.33"/><circle cx="1371.3" cy="1376.3" r="8.33"/><circle cx="1371.3" cy="1380.3" r="8.33"/><circle cx="1371.3" cy="1383.4" r="8.33"/><circle cx="1371.3" cy="1436.8" r="8.33"/><circle cx="1371.3" cy="1440.5" r="8.33"/><circle cx="1371.3" cy="1450.6" r="8.33"/><circle cx="1371.3" cy="1452.9" r="8.33"/><circle cx="1371.3" cy="1454.6" r="8.33"/><circle cx="1371.3" cy="1454.6" r="8.33"/><circle cx="1660" cy="1087.3" r="8.33"/><circle cx="1645.7" cy="1093.9" r="8.33"/><circle cx="1644.8" cy="1095.9" r="8.33"/><circle cx="1637.2" cy="1100.9" r="8.33"/><circle cx="1685" cy="1103.4" r="8.33"/><circle cx="1675.2" cy="1110" r="8.33"/><circle cx="1668" cy="1114" r="8.33"/><circle cx="1659.6" cy="1112" r="8.33"/><circle cx="1654.6" cy="1121" r="8.33"/><circle cx="1648.4" cy="1124" r="8.33"/><circle cx="1642.1" cy="1129.1" r="8.33"/><circle cx="1636.8" cy="1134" r="8.33"/><circle cx="1625.6" cy="1130.1" r="8.33"/><circle cx="1627.9" cy="1140.1" r="8.33"/><circle cx="1624.3" cy="1145.1" r="8.33"/><circle cx="1632.3" cy="1136.1" r="8.33"/><circle cx="1680" cy="1106.7" r="8.33"/><circle cx="1663" cy="1116.3" r="8.33"/><circle cx="1651" cy="1122.5" r="8.33"/><circle cx="1639" cy="1131.5" r="8.33"/>
</g>
</g>
<g opacity="0.999">
<text x="1371.5" y="1515.2" text-anchor="middle">0</text>
<text x="1529" y="1515.2" text-anchor="middle">250</text>
<text x="1686.5" y="1515.2" text-anchor="middle">500</text>
<text x="1844" y="1515.2" text-anchor="middle">750</text>
<text x="2001.5" y="1515.2" text-anchor="middle">1000</text>
<text x="2159" y="1515.2" text-anchor="middle">1250</text>
<text x="2316.5" y="1515.2" text-anchor="middle">1500</text>
<text x="1314.4" y="1465.4" text-anchor="end">0</text>
<text x="1314.4" y="1362" text-anchor="end">500</text>
<text x="1314.4" y="1258.6" text-anchor="end">1000</text>
<text x="1314.4" y="1155.2" text-anchor="end">1500</text>
<text x="1314.4" y="1051.8" text-anchor="end">2000</text>
<text x="1314.4" y="948.4" text-anchor="end">2500</text>
<text x="1841" y="827.2" text-anchor="middle">channel=x2, geo=geo_b</text>
<text x="1841" y="1555.2" text-anchor="middle">Channel Data (X)</text>
<text transform="translate(1226 1163.5) rotate(-90)" text-anchor="middle">Channel Contribution (Y)</text>
</g>
</g>
</svg>
</body></html>
